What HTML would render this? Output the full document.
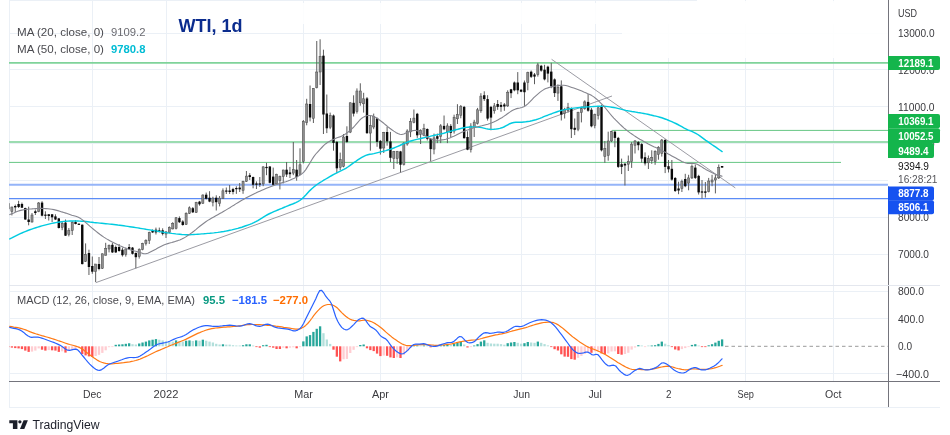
<!DOCTYPE html>
<html><head><meta charset="utf-8"><title>WTI, 1d</title>
<style>html,body{margin:0;padding:0;background:#fff}svg{display:block;will-change:transform;opacity:0.999}</style></head>
<body>
<svg width="950" height="435" viewBox="0 0 950 435" font-family="Liberation Sans, Arial, sans-serif">
<rect width="950" height="435" fill="#fff"/>
<g stroke="#ebf0f6" stroke-width="1" shape-rendering="crispEdges">
<line x1="92.3" y1="0" x2="92.3" y2="381"/>
<line x1="166.0" y1="0" x2="166.0" y2="381"/>
<line x1="303.6" y1="0" x2="303.6" y2="381"/>
<line x1="380.5" y1="0" x2="380.5" y2="381"/>
<line x1="521.6" y1="0" x2="521.6" y2="381"/>
<line x1="595.0" y1="0" x2="595.0" y2="381"/>
<line x1="668.8" y1="0" x2="668.8" y2="381"/>
<line x1="745.7" y1="0" x2="745.7" y2="381"/>
<line x1="833.2" y1="0" x2="833.2" y2="381"/>
<line x1="9" y1="33.0" x2="888" y2="33.0"/>
<line x1="9" y1="69.8" x2="888" y2="69.8"/>
<line x1="9" y1="106.7" x2="888" y2="106.7"/>
<line x1="9" y1="143.6" x2="888" y2="143.6"/>
<line x1="9" y1="180.4" x2="888" y2="180.4"/>
<line x1="9" y1="217.2" x2="888" y2="217.2"/>
<line x1="9" y1="254.1" x2="888" y2="254.1"/>
<line x1="9" y1="291.1" x2="888" y2="291.1"/>
<line x1="9" y1="318.7" x2="888" y2="318.7"/>
<line x1="9" y1="373.9" x2="888" y2="373.9"/>
<line x1="9.5" y1="0" x2="9.5" y2="408"/>
<line x1="9" y1="407.5" x2="940" y2="407.5"/>
</g>
<rect x="170" y="3" width="718" height="21" fill="#fff" opacity="0.85"/>
<rect x="622" y="1" width="266" height="57" fill="#fff" opacity="0.9"/>
<line x1="9" y1="0.5" x2="697" y2="0.5" stroke="#ebf0f6" shape-rendering="crispEdges"/>
<line x1="9" y1="62.9" x2="888" y2="62.9" stroke="#7fd39a" stroke-width="1.6"/>
<line x1="612" y1="130.4" x2="888" y2="130.4" stroke="#66c685" stroke-width="1"/>
<line x1="9" y1="141.9" x2="888" y2="141.9" stroke="#9bdcb0" stroke-width="2"/>
<line x1="9" y1="162.4" x2="841" y2="162.4" stroke="#66c685" stroke-width="1"/>
<line x1="9" y1="184.7" x2="888" y2="184.7" stroke="#95b4f8" stroke-width="2"/>
<line x1="9" y1="198.6" x2="888" y2="198.6" stroke="#5b8cf6" stroke-width="1.1"/>
<line x1="95.7" y1="282.7" x2="612" y2="96" stroke="#96969e" stroke-width="0.95"/>
<line x1="551.6" y1="59.3" x2="735.3" y2="187.9" stroke="#96969e" stroke-width="0.95"/>
<clipPath id="cp"><rect x="9.3" y="0" width="879" height="381"/></clipPath>
<g clip-path="url(#cp)">
<line x1="8.55" y1="201.0" x2="8.55" y2="211.0" stroke="#5c5c5c" stroke-width="1"/>
<rect x="7.50" y="203.5" width="2.1" height="5.5" fill="#8e8e8e" stroke="#484848" stroke-width="0.5"/>
<line x1="11.90" y1="206.7" x2="11.90" y2="215.4" stroke="#5c5c5c" stroke-width="1"/>
<rect x="10.85" y="207.0" width="2.1" height="4.5" fill="#8e8e8e" stroke="#484848" stroke-width="0.5"/>
<line x1="15.25" y1="204.6" x2="15.25" y2="212.0" stroke="#5c5c5c" stroke-width="1"/>
<rect x="14.05" y="206.0" width="2.4" height="1.4" fill="#0a0a0a"/>
<line x1="18.60" y1="200.8" x2="18.60" y2="208.0" stroke="#5c5c5c" stroke-width="1"/>
<rect x="17.40" y="204.0" width="2.4" height="3.0" fill="#0a0a0a"/>
<line x1="21.95" y1="202.6" x2="21.95" y2="208.0" stroke="#5c5c5c" stroke-width="1"/>
<rect x="20.75" y="204.0" width="2.4" height="3.7" fill="#0a0a0a"/>
<line x1="25.30" y1="207.7" x2="25.30" y2="219.8" stroke="#5c5c5c" stroke-width="1"/>
<rect x="24.10" y="208.0" width="2.4" height="11.5" fill="#0a0a0a"/>
<line x1="28.65" y1="206.7" x2="28.65" y2="225.3" stroke="#5c5c5c" stroke-width="1"/>
<rect x="27.45" y="219.5" width="2.4" height="2.5" fill="#0a0a0a"/>
<line x1="32.00" y1="213.0" x2="32.00" y2="222.6" stroke="#5c5c5c" stroke-width="1"/>
<rect x="30.95" y="215.0" width="2.1" height="7.0" fill="#8e8e8e" stroke="#484848" stroke-width="0.5"/>
<line x1="35.35" y1="209.5" x2="35.35" y2="215.0" stroke="#5c5c5c" stroke-width="1"/>
<rect x="34.15" y="211.3" width="2.4" height="1.7" fill="#0a0a0a"/>
<line x1="38.70" y1="202.0" x2="38.70" y2="212.2" stroke="#5c5c5c" stroke-width="1"/>
<rect x="37.65" y="203.0" width="2.1" height="8.3" fill="#8e8e8e" stroke="#484848" stroke-width="0.5"/>
<line x1="42.05" y1="201.2" x2="42.05" y2="216.4" stroke="#5c5c5c" stroke-width="1"/>
<rect x="40.85" y="202.6" width="2.4" height="13.1" fill="#0a0a0a"/>
<line x1="45.40" y1="211.3" x2="45.40" y2="219.0" stroke="#5c5c5c" stroke-width="1"/>
<rect x="44.20" y="214.6" width="2.4" height="1.2" fill="#0a0a0a"/>
<line x1="48.75" y1="214.0" x2="48.75" y2="220.5" stroke="#5c5c5c" stroke-width="1"/>
<rect x="47.55" y="214.3" width="2.4" height="1.7" fill="#0a0a0a"/>
<line x1="52.10" y1="214.0" x2="52.10" y2="222.0" stroke="#5c5c5c" stroke-width="1"/>
<rect x="50.90" y="214.3" width="2.4" height="3.0" fill="#0a0a0a"/>
<line x1="55.45" y1="214.3" x2="55.45" y2="220.0" stroke="#5c5c5c" stroke-width="1"/>
<rect x="54.25" y="216.4" width="2.4" height="3.1" fill="#0a0a0a"/>
<line x1="58.80" y1="218.0" x2="58.80" y2="228.5" stroke="#5c5c5c" stroke-width="1"/>
<rect x="57.60" y="218.4" width="2.4" height="9.6" fill="#0a0a0a"/>
<line x1="62.15" y1="221.2" x2="62.15" y2="230.2" stroke="#5c5c5c" stroke-width="1"/>
<rect x="61.10" y="223.3" width="2.1" height="4.1" fill="#8e8e8e" stroke="#484848" stroke-width="0.5"/>
<line x1="65.50" y1="219.5" x2="65.50" y2="236.0" stroke="#5c5c5c" stroke-width="1"/>
<rect x="64.30" y="222.6" width="2.4" height="13.1" fill="#0a0a0a"/>
<line x1="68.85" y1="228.0" x2="68.85" y2="236.4" stroke="#5c5c5c" stroke-width="1"/>
<rect x="67.80" y="230.2" width="2.1" height="4.1" fill="#8e8e8e" stroke="#484848" stroke-width="0.5"/>
<line x1="72.20" y1="221.0" x2="72.20" y2="235.0" stroke="#5c5c5c" stroke-width="1"/>
<rect x="71.15" y="222.6" width="2.1" height="8.0" fill="#8e8e8e" stroke="#484848" stroke-width="0.5"/>
<line x1="75.55" y1="220.2" x2="75.55" y2="224.4" stroke="#5c5c5c" stroke-width="1"/>
<rect x="74.35" y="222.0" width="2.4" height="2.0" fill="#0a0a0a"/>
<line x1="78.90" y1="223.5" x2="78.90" y2="225.0" stroke="#5c5c5c" stroke-width="1"/>
<rect x="77.70" y="223.7" width="2.4" height="1.2" fill="#0a0a0a"/>
<line x1="82.25" y1="224.5" x2="82.25" y2="264.4" stroke="#5c5c5c" stroke-width="1"/>
<rect x="81.05" y="224.7" width="2.4" height="39.4" fill="#0a0a0a"/>
<line x1="85.60" y1="243.4" x2="85.60" y2="262.0" stroke="#5c5c5c" stroke-width="1"/>
<rect x="84.55" y="254.5" width="2.1" height="6.9" fill="#8e8e8e" stroke="#484848" stroke-width="0.5"/>
<line x1="88.95" y1="249.7" x2="88.95" y2="275.0" stroke="#5c5c5c" stroke-width="1"/>
<rect x="87.75" y="253.0" width="2.4" height="14.0" fill="#0a0a0a"/>
<line x1="92.30" y1="256.5" x2="92.30" y2="273.8" stroke="#5c5c5c" stroke-width="1"/>
<rect x="91.10" y="266.0" width="2.4" height="5.7" fill="#0a0a0a"/>
<line x1="95.65" y1="264.0" x2="95.65" y2="282.0" stroke="#5c5c5c" stroke-width="1"/>
<rect x="94.60" y="264.0" width="2.1" height="7.7" fill="#8e8e8e" stroke="#484848" stroke-width="0.5"/>
<line x1="99.00" y1="257.0" x2="99.00" y2="270.3" stroke="#5c5c5c" stroke-width="1"/>
<rect x="97.80" y="264.0" width="2.4" height="5.0" fill="#0a0a0a"/>
<line x1="102.35" y1="253.5" x2="102.35" y2="269.0" stroke="#5c5c5c" stroke-width="1"/>
<rect x="101.30" y="253.8" width="2.1" height="14.5" fill="#8e8e8e" stroke="#484848" stroke-width="0.5"/>
<line x1="105.70" y1="242.8" x2="105.70" y2="255.6" stroke="#5c5c5c" stroke-width="1"/>
<rect x="104.65" y="248.3" width="2.1" height="6.9" fill="#8e8e8e" stroke="#484848" stroke-width="0.5"/>
<line x1="109.05" y1="244.5" x2="109.05" y2="252.4" stroke="#5c5c5c" stroke-width="1"/>
<rect x="108.00" y="245.5" width="2.1" height="3.5" fill="#8e8e8e" stroke="#484848" stroke-width="0.5"/>
<line x1="112.40" y1="242.8" x2="112.40" y2="253.0" stroke="#5c5c5c" stroke-width="1"/>
<rect x="111.20" y="244.8" width="2.4" height="7.6" fill="#0a0a0a"/>
<line x1="115.75" y1="245.5" x2="115.75" y2="253.0" stroke="#5c5c5c" stroke-width="1"/>
<rect x="114.55" y="247.0" width="2.4" height="5.4" fill="#0a0a0a"/>
<line x1="119.10" y1="244.0" x2="119.10" y2="251.7" stroke="#5c5c5c" stroke-width="1"/>
<rect x="117.90" y="247.0" width="2.4" height="4.0" fill="#0a0a0a"/>
<line x1="122.45" y1="247.6" x2="122.45" y2="256.6" stroke="#5c5c5c" stroke-width="1"/>
<rect x="121.25" y="249.7" width="2.4" height="5.5" fill="#0a0a0a"/>
<line x1="125.80" y1="248.3" x2="125.80" y2="256.6" stroke="#5c5c5c" stroke-width="1"/>
<rect x="124.75" y="249.0" width="2.1" height="5.5" fill="#8e8e8e" stroke="#484848" stroke-width="0.5"/>
<line x1="129.15" y1="244.0" x2="129.15" y2="249.7" stroke="#5c5c5c" stroke-width="1"/>
<rect x="127.95" y="247.0" width="2.4" height="2.0" fill="#0a0a0a"/>
<line x1="132.50" y1="247.0" x2="132.50" y2="254.5" stroke="#5c5c5c" stroke-width="1"/>
<rect x="131.30" y="247.6" width="2.4" height="6.2" fill="#0a0a0a"/>
<line x1="135.85" y1="252.4" x2="135.85" y2="268.3" stroke="#5c5c5c" stroke-width="1"/>
<rect x="134.65" y="253.0" width="2.4" height="4.2" fill="#0a0a0a"/>
<line x1="139.20" y1="248.3" x2="139.20" y2="258.6" stroke="#5c5c5c" stroke-width="1"/>
<rect x="138.15" y="249.7" width="2.1" height="6.8" fill="#8e8e8e" stroke="#484848" stroke-width="0.5"/>
<line x1="142.55" y1="242.8" x2="142.55" y2="250.3" stroke="#5c5c5c" stroke-width="1"/>
<rect x="141.50" y="243.4" width="2.1" height="6.3" fill="#8e8e8e" stroke="#484848" stroke-width="0.5"/>
<line x1="145.90" y1="239.3" x2="145.90" y2="245.5" stroke="#5c5c5c" stroke-width="1"/>
<rect x="144.85" y="240.4" width="2.1" height="3.3" fill="#8e8e8e" stroke="#484848" stroke-width="0.5"/>
<line x1="149.25" y1="231.7" x2="149.25" y2="244.0" stroke="#5c5c5c" stroke-width="1"/>
<rect x="148.20" y="232.7" width="2.1" height="8.0" fill="#8e8e8e" stroke="#484848" stroke-width="0.5"/>
<line x1="152.60" y1="229.4" x2="152.60" y2="233.0" stroke="#5c5c5c" stroke-width="1"/>
<rect x="151.40" y="230.3" width="2.4" height="2.1" fill="#0a0a0a"/>
<line x1="155.95" y1="227.6" x2="155.95" y2="234.5" stroke="#5c5c5c" stroke-width="1"/>
<rect x="154.75" y="229.7" width="2.4" height="2.7" fill="#0a0a0a"/>
<line x1="159.30" y1="227.6" x2="159.30" y2="232.4" stroke="#5c5c5c" stroke-width="1"/>
<rect x="158.10" y="230.3" width="2.4" height="1.4" fill="#0a0a0a"/>
<line x1="162.65" y1="228.3" x2="162.65" y2="235.4" stroke="#5c5c5c" stroke-width="1"/>
<rect x="161.45" y="230.3" width="2.4" height="3.5" fill="#0a0a0a"/>
<line x1="166.00" y1="231.2" x2="166.00" y2="238.0" stroke="#5c5c5c" stroke-width="1"/>
<rect x="164.95" y="231.9" width="2.1" height="2.1" fill="#8e8e8e" stroke="#484848" stroke-width="0.5"/>
<line x1="169.35" y1="226.4" x2="169.35" y2="233.3" stroke="#5c5c5c" stroke-width="1"/>
<rect x="168.30" y="227.5" width="2.1" height="5.1" fill="#8e8e8e" stroke="#484848" stroke-width="0.5"/>
<line x1="172.70" y1="222.2" x2="172.70" y2="229.4" stroke="#5c5c5c" stroke-width="1"/>
<rect x="171.65" y="223.3" width="2.1" height="5.6" fill="#8e8e8e" stroke="#484848" stroke-width="0.5"/>
<line x1="176.05" y1="217.0" x2="176.05" y2="229.4" stroke="#5c5c5c" stroke-width="1"/>
<rect x="175.00" y="217.8" width="2.1" height="10.6" fill="#8e8e8e" stroke="#484848" stroke-width="0.5"/>
<line x1="179.40" y1="216.4" x2="179.40" y2="223.0" stroke="#5c5c5c" stroke-width="1"/>
<rect x="178.20" y="218.1" width="2.4" height="4.1" fill="#0a0a0a"/>
<line x1="182.75" y1="220.2" x2="182.75" y2="225.7" stroke="#5c5c5c" stroke-width="1"/>
<rect x="181.55" y="221.5" width="2.4" height="3.5" fill="#0a0a0a"/>
<line x1="186.10" y1="212.3" x2="186.10" y2="225.0" stroke="#5c5c5c" stroke-width="1"/>
<rect x="185.05" y="213.3" width="2.1" height="11.0" fill="#8e8e8e" stroke="#484848" stroke-width="0.5"/>
<line x1="189.45" y1="206.4" x2="189.45" y2="214.0" stroke="#5c5c5c" stroke-width="1"/>
<rect x="188.40" y="207.8" width="2.1" height="5.5" fill="#8e8e8e" stroke="#484848" stroke-width="0.5"/>
<line x1="192.80" y1="207.0" x2="192.80" y2="213.0" stroke="#5c5c5c" stroke-width="1"/>
<rect x="191.60" y="208.2" width="2.4" height="4.1" fill="#0a0a0a"/>
<line x1="196.15" y1="201.8" x2="196.15" y2="213.0" stroke="#5c5c5c" stroke-width="1"/>
<rect x="195.10" y="202.7" width="2.1" height="9.6" fill="#8e8e8e" stroke="#484848" stroke-width="0.5"/>
<line x1="199.50" y1="200.9" x2="199.50" y2="205.7" stroke="#5c5c5c" stroke-width="1"/>
<rect x="198.30" y="201.6" width="2.4" height="2.7" fill="#0a0a0a"/>
<line x1="202.85" y1="194.4" x2="202.85" y2="204.0" stroke="#5c5c5c" stroke-width="1"/>
<rect x="201.80" y="195.0" width="2.1" height="8.2" fill="#8e8e8e" stroke="#484848" stroke-width="0.5"/>
<line x1="206.20" y1="192.6" x2="206.20" y2="199.5" stroke="#5c5c5c" stroke-width="1"/>
<rect x="205.00" y="194.7" width="2.4" height="4.1" fill="#0a0a0a"/>
<line x1="209.55" y1="191.2" x2="209.55" y2="202.2" stroke="#5c5c5c" stroke-width="1"/>
<rect x="208.35" y="197.7" width="2.4" height="3.9" fill="#0a0a0a"/>
<line x1="212.90" y1="196.7" x2="212.90" y2="206.4" stroke="#5c5c5c" stroke-width="1"/>
<rect x="211.85" y="198.1" width="2.1" height="4.1" fill="#8e8e8e" stroke="#484848" stroke-width="0.5"/>
<line x1="216.25" y1="195.3" x2="216.25" y2="210.5" stroke="#5c5c5c" stroke-width="1"/>
<rect x="215.05" y="197.7" width="2.4" height="4.5" fill="#0a0a0a"/>
<line x1="219.60" y1="196.0" x2="219.60" y2="206.4" stroke="#5c5c5c" stroke-width="1"/>
<rect x="218.55" y="198.1" width="2.1" height="5.5" fill="#8e8e8e" stroke="#484848" stroke-width="0.5"/>
<line x1="222.95" y1="188.4" x2="222.95" y2="198.8" stroke="#5c5c5c" stroke-width="1"/>
<rect x="221.90" y="190.8" width="2.1" height="7.7" fill="#8e8e8e" stroke="#484848" stroke-width="0.5"/>
<line x1="226.30" y1="187.5" x2="226.30" y2="194.0" stroke="#5c5c5c" stroke-width="1"/>
<rect x="225.10" y="190.5" width="2.4" height="1.2" fill="#0a0a0a"/>
<line x1="229.65" y1="185.0" x2="229.65" y2="194.0" stroke="#5c5c5c" stroke-width="1"/>
<rect x="228.45" y="190.5" width="2.4" height="1.5" fill="#0a0a0a"/>
<line x1="233.00" y1="187.8" x2="233.00" y2="194.4" stroke="#5c5c5c" stroke-width="1"/>
<rect x="231.80" y="189.1" width="2.4" height="2.8" fill="#0a0a0a"/>
<line x1="236.35" y1="186.3" x2="236.35" y2="193.9" stroke="#5c5c5c" stroke-width="1"/>
<rect x="235.15" y="188.0" width="2.4" height="1.2" fill="#0a0a0a"/>
<line x1="239.70" y1="183.0" x2="239.70" y2="192.0" stroke="#5c5c5c" stroke-width="1"/>
<rect x="238.50" y="187.6" width="2.4" height="1.7" fill="#0a0a0a"/>
<line x1="243.05" y1="180.7" x2="243.05" y2="193.8" stroke="#5c5c5c" stroke-width="1"/>
<rect x="242.00" y="181.4" width="2.1" height="8.9" fill="#8e8e8e" stroke="#484848" stroke-width="0.5"/>
<line x1="246.40" y1="171.0" x2="246.40" y2="182.0" stroke="#5c5c5c" stroke-width="1"/>
<rect x="245.35" y="176.1" width="2.1" height="5.3" fill="#8e8e8e" stroke="#484848" stroke-width="0.5"/>
<line x1="249.75" y1="173.1" x2="249.75" y2="180.0" stroke="#5c5c5c" stroke-width="1"/>
<rect x="248.55" y="175.2" width="2.4" height="1.8" fill="#0a0a0a"/>
<line x1="253.10" y1="176.6" x2="253.10" y2="188.3" stroke="#5c5c5c" stroke-width="1"/>
<rect x="251.90" y="177.0" width="2.4" height="7.8" fill="#0a0a0a"/>
<line x1="256.45" y1="181.4" x2="256.45" y2="189.0" stroke="#5c5c5c" stroke-width="1"/>
<rect x="255.25" y="183.4" width="2.4" height="1.4" fill="#0a0a0a"/>
<line x1="259.80" y1="177.0" x2="259.80" y2="186.9" stroke="#5c5c5c" stroke-width="1"/>
<rect x="258.60" y="183.4" width="2.4" height="1.2" fill="#0a0a0a"/>
<line x1="263.15" y1="166.2" x2="263.15" y2="186.2" stroke="#5c5c5c" stroke-width="1"/>
<rect x="262.10" y="166.9" width="2.1" height="17.0" fill="#8e8e8e" stroke="#484848" stroke-width="0.5"/>
<line x1="266.50" y1="162.8" x2="266.50" y2="175.2" stroke="#5c5c5c" stroke-width="1"/>
<rect x="265.30" y="166.9" width="2.4" height="1.2" fill="#0a0a0a"/>
<line x1="269.85" y1="166.2" x2="269.85" y2="183.4" stroke="#5c5c5c" stroke-width="1"/>
<rect x="268.65" y="166.5" width="2.4" height="16.3" fill="#0a0a0a"/>
<line x1="273.20" y1="167.6" x2="273.20" y2="185.5" stroke="#5c5c5c" stroke-width="1"/>
<rect x="272.00" y="176.6" width="2.4" height="8.2" fill="#0a0a0a"/>
<line x1="276.55" y1="173.8" x2="276.55" y2="184.4" stroke="#5c5c5c" stroke-width="1"/>
<rect x="275.50" y="174.2" width="2.1" height="9.7" fill="#8e8e8e" stroke="#484848" stroke-width="0.5"/>
<line x1="279.90" y1="175.6" x2="279.90" y2="189.4" stroke="#5c5c5c" stroke-width="1"/>
<rect x="278.85" y="176.6" width="2.1" height="4.1" fill="#8e8e8e" stroke="#484848" stroke-width="0.5"/>
<line x1="283.25" y1="169.7" x2="283.25" y2="183.4" stroke="#5c5c5c" stroke-width="1"/>
<rect x="282.20" y="170.0" width="2.1" height="6.6" fill="#8e8e8e" stroke="#484848" stroke-width="0.5"/>
<line x1="286.60" y1="162.0" x2="286.60" y2="177.0" stroke="#5c5c5c" stroke-width="1"/>
<rect x="285.40" y="169.7" width="2.4" height="4.8" fill="#0a0a0a"/>
<line x1="289.95" y1="166.9" x2="289.95" y2="178.0" stroke="#5c5c5c" stroke-width="1"/>
<rect x="288.75" y="172.4" width="2.4" height="1.8" fill="#0a0a0a"/>
<line x1="293.30" y1="142.0" x2="293.30" y2="175.2" stroke="#5c5c5c" stroke-width="1"/>
<rect x="292.25" y="169.7" width="2.1" height="3.4" fill="#8e8e8e" stroke="#484848" stroke-width="0.5"/>
<line x1="296.65" y1="160.0" x2="296.65" y2="180.7" stroke="#5c5c5c" stroke-width="1"/>
<rect x="295.45" y="169.7" width="2.4" height="7.3" fill="#0a0a0a"/>
<line x1="300.00" y1="148.3" x2="300.00" y2="175.2" stroke="#5c5c5c" stroke-width="1"/>
<rect x="298.95" y="164.8" width="2.1" height="9.7" fill="#8e8e8e" stroke="#484848" stroke-width="0.5"/>
<line x1="303.35" y1="120.0" x2="303.35" y2="163.4" stroke="#5c5c5c" stroke-width="1"/>
<rect x="302.30" y="121.4" width="2.1" height="40.0" fill="#8e8e8e" stroke="#484848" stroke-width="0.5"/>
<line x1="306.70" y1="98.8" x2="306.70" y2="125.3" stroke="#5c5c5c" stroke-width="1"/>
<rect x="305.65" y="104.0" width="2.1" height="18.4" fill="#8e8e8e" stroke="#484848" stroke-width="0.5"/>
<line x1="310.05" y1="85.5" x2="310.05" y2="121.4" stroke="#5c5c5c" stroke-width="1"/>
<rect x="308.85" y="104.0" width="2.4" height="13.5" fill="#0a0a0a"/>
<line x1="313.40" y1="88.0" x2="313.40" y2="123.0" stroke="#5c5c5c" stroke-width="1"/>
<rect x="312.35" y="88.4" width="2.1" height="30.0" fill="#8e8e8e" stroke="#484848" stroke-width="0.5"/>
<line x1="316.75" y1="41.0" x2="316.75" y2="88.4" stroke="#5c5c5c" stroke-width="1"/>
<rect x="315.70" y="72.0" width="2.1" height="15.6" fill="#8e8e8e" stroke="#484848" stroke-width="0.5"/>
<line x1="320.10" y1="39.3" x2="320.10" y2="85.0" stroke="#5c5c5c" stroke-width="1"/>
<rect x="319.05" y="56.5" width="2.1" height="15.5" fill="#8e8e8e" stroke="#484848" stroke-width="0.5"/>
<line x1="323.45" y1="49.7" x2="323.45" y2="134.0" stroke="#5c5c5c" stroke-width="1"/>
<rect x="322.25" y="55.7" width="2.4" height="58.8" fill="#0a0a0a"/>
<line x1="326.80" y1="94.5" x2="326.80" y2="133.1" stroke="#5c5c5c" stroke-width="1"/>
<rect x="325.60" y="113.5" width="2.4" height="14.8" fill="#0a0a0a"/>
<line x1="330.15" y1="112.6" x2="330.15" y2="129.2" stroke="#5c5c5c" stroke-width="1"/>
<rect x="329.10" y="115.5" width="2.1" height="11.7" fill="#8e8e8e" stroke="#484848" stroke-width="0.5"/>
<line x1="333.50" y1="114.5" x2="333.50" y2="150.7" stroke="#5c5c5c" stroke-width="1"/>
<rect x="332.30" y="115.5" width="2.4" height="27.4" fill="#0a0a0a"/>
<line x1="336.85" y1="140.9" x2="336.85" y2="173.2" stroke="#5c5c5c" stroke-width="1"/>
<rect x="335.65" y="141.9" width="2.4" height="26.4" fill="#0a0a0a"/>
<line x1="340.20" y1="152.6" x2="340.20" y2="170.2" stroke="#5c5c5c" stroke-width="1"/>
<rect x="339.15" y="159.5" width="2.1" height="7.8" fill="#8e8e8e" stroke="#484848" stroke-width="0.5"/>
<line x1="343.55" y1="134.0" x2="343.55" y2="167.3" stroke="#5c5c5c" stroke-width="1"/>
<rect x="342.50" y="137.0" width="2.1" height="29.3" fill="#8e8e8e" stroke="#484848" stroke-width="0.5"/>
<line x1="346.90" y1="126.3" x2="346.90" y2="142.9" stroke="#5c5c5c" stroke-width="1"/>
<rect x="345.70" y="136.0" width="2.4" height="5.9" fill="#0a0a0a"/>
<line x1="350.25" y1="102.4" x2="350.25" y2="133.1" stroke="#5c5c5c" stroke-width="1"/>
<rect x="349.20" y="102.8" width="2.1" height="29.3" fill="#8e8e8e" stroke="#484848" stroke-width="0.5"/>
<line x1="353.60" y1="95.3" x2="353.60" y2="116.5" stroke="#5c5c5c" stroke-width="1"/>
<rect x="352.40" y="102.8" width="2.4" height="10.8" fill="#0a0a0a"/>
<line x1="356.95" y1="88.4" x2="356.95" y2="113.6" stroke="#5c5c5c" stroke-width="1"/>
<rect x="355.90" y="91.0" width="2.1" height="20.6" fill="#8e8e8e" stroke="#484848" stroke-width="0.5"/>
<line x1="360.30" y1="83.3" x2="360.30" y2="105.7" stroke="#5c5c5c" stroke-width="1"/>
<rect x="359.25" y="91.0" width="2.1" height="11.8" fill="#8e8e8e" stroke="#484848" stroke-width="0.5"/>
<line x1="363.65" y1="92.8" x2="363.65" y2="112.6" stroke="#5c5c5c" stroke-width="1"/>
<rect x="362.60" y="98.8" width="2.1" height="5.0" fill="#8e8e8e" stroke="#484848" stroke-width="0.5"/>
<line x1="367.00" y1="97.0" x2="367.00" y2="134.0" stroke="#5c5c5c" stroke-width="1"/>
<rect x="365.80" y="98.4" width="2.4" height="34.7" fill="#0a0a0a"/>
<line x1="370.35" y1="115.5" x2="370.35" y2="150.7" stroke="#5c5c5c" stroke-width="1"/>
<rect x="369.30" y="125.3" width="2.1" height="7.8" fill="#8e8e8e" stroke="#484848" stroke-width="0.5"/>
<line x1="373.70" y1="113.6" x2="373.70" y2="129.2" stroke="#5c5c5c" stroke-width="1"/>
<rect x="372.65" y="116.5" width="2.1" height="10.5" fill="#8e8e8e" stroke="#484848" stroke-width="0.5"/>
<line x1="377.05" y1="117.5" x2="377.05" y2="146.8" stroke="#5c5c5c" stroke-width="1"/>
<rect x="375.85" y="118.4" width="2.4" height="23.5" fill="#0a0a0a"/>
<line x1="380.40" y1="140.0" x2="380.40" y2="154.6" stroke="#5c5c5c" stroke-width="1"/>
<rect x="379.20" y="140.9" width="2.4" height="7.8" fill="#0a0a0a"/>
<line x1="383.75" y1="131.9" x2="383.75" y2="153.0" stroke="#5c5c5c" stroke-width="1"/>
<rect x="382.70" y="132.4" width="2.1" height="15.6" fill="#8e8e8e" stroke="#484848" stroke-width="0.5"/>
<line x1="387.10" y1="126.7" x2="387.10" y2="145.7" stroke="#5c5c5c" stroke-width="1"/>
<rect x="385.90" y="132.0" width="2.4" height="9.4" fill="#0a0a0a"/>
<line x1="390.45" y1="131.9" x2="390.45" y2="162.0" stroke="#5c5c5c" stroke-width="1"/>
<rect x="389.25" y="141.4" width="2.4" height="16.4" fill="#0a0a0a"/>
<line x1="393.80" y1="150.9" x2="393.80" y2="169.0" stroke="#5c5c5c" stroke-width="1"/>
<rect x="392.75" y="151.4" width="2.1" height="7.2" fill="#8e8e8e" stroke="#484848" stroke-width="0.5"/>
<line x1="397.15" y1="150.9" x2="397.15" y2="163.8" stroke="#5c5c5c" stroke-width="1"/>
<rect x="396.10" y="151.7" width="2.1" height="6.9" fill="#8e8e8e" stroke="#484848" stroke-width="0.5"/>
<line x1="400.50" y1="150.9" x2="400.50" y2="172.4" stroke="#5c5c5c" stroke-width="1"/>
<rect x="399.30" y="151.4" width="2.4" height="13.3" fill="#0a0a0a"/>
<line x1="403.85" y1="142.2" x2="403.85" y2="165.5" stroke="#5c5c5c" stroke-width="1"/>
<rect x="402.80" y="143.1" width="2.1" height="21.6" fill="#8e8e8e" stroke="#484848" stroke-width="0.5"/>
<line x1="407.20" y1="129.3" x2="407.20" y2="145.7" stroke="#5c5c5c" stroke-width="1"/>
<rect x="406.15" y="131.0" width="2.1" height="13.0" fill="#8e8e8e" stroke="#484848" stroke-width="0.5"/>
<line x1="410.55" y1="118.1" x2="410.55" y2="137.1" stroke="#5c5c5c" stroke-width="1"/>
<rect x="409.50" y="121.6" width="2.1" height="10.3" fill="#8e8e8e" stroke="#484848" stroke-width="0.5"/>
<line x1="413.90" y1="109.5" x2="413.90" y2="123.3" stroke="#5c5c5c" stroke-width="1"/>
<rect x="412.85" y="118.1" width="2.1" height="4.3" fill="#8e8e8e" stroke="#484848" stroke-width="0.5"/>
<line x1="417.25" y1="112.9" x2="417.25" y2="137.9" stroke="#5c5c5c" stroke-width="1"/>
<rect x="416.05" y="113.8" width="2.4" height="21.5" fill="#0a0a0a"/>
<line x1="420.60" y1="129.3" x2="420.60" y2="144.0" stroke="#5c5c5c" stroke-width="1"/>
<rect x="419.55" y="130.2" width="2.1" height="4.3" fill="#8e8e8e" stroke="#484848" stroke-width="0.5"/>
<line x1="423.95" y1="123.8" x2="423.95" y2="136.2" stroke="#5c5c5c" stroke-width="1"/>
<rect x="422.90" y="128.4" width="2.1" height="6.9" fill="#8e8e8e" stroke="#484848" stroke-width="0.5"/>
<line x1="427.30" y1="128.4" x2="427.30" y2="140.5" stroke="#5c5c5c" stroke-width="1"/>
<rect x="426.10" y="129.0" width="2.4" height="9.8" fill="#0a0a0a"/>
<line x1="430.65" y1="137.9" x2="430.65" y2="161.2" stroke="#5c5c5c" stroke-width="1"/>
<rect x="429.45" y="138.8" width="2.4" height="10.3" fill="#0a0a0a"/>
<line x1="434.00" y1="133.6" x2="434.00" y2="154.3" stroke="#5c5c5c" stroke-width="1"/>
<rect x="432.95" y="137.9" width="2.1" height="11.2" fill="#8e8e8e" stroke="#484848" stroke-width="0.5"/>
<line x1="437.35" y1="133.6" x2="437.35" y2="143.1" stroke="#5c5c5c" stroke-width="1"/>
<rect x="436.15" y="136.2" width="2.4" height="2.6" fill="#0a0a0a"/>
<line x1="440.70" y1="124.1" x2="440.70" y2="143.1" stroke="#5c5c5c" stroke-width="1"/>
<rect x="439.65" y="125.9" width="2.1" height="10.3" fill="#8e8e8e" stroke="#484848" stroke-width="0.5"/>
<line x1="444.05" y1="115.5" x2="444.05" y2="130.2" stroke="#5c5c5c" stroke-width="1"/>
<rect x="442.85" y="125.9" width="2.4" height="3.4" fill="#0a0a0a"/>
<line x1="447.40" y1="123.3" x2="447.40" y2="143.1" stroke="#5c5c5c" stroke-width="1"/>
<rect x="446.35" y="125.9" width="2.1" height="6.0" fill="#8e8e8e" stroke="#484848" stroke-width="0.5"/>
<line x1="450.75" y1="124.1" x2="450.75" y2="137.1" stroke="#5c5c5c" stroke-width="1"/>
<rect x="449.55" y="125.9" width="2.4" height="6.9" fill="#0a0a0a"/>
<line x1="454.10" y1="114.7" x2="454.10" y2="133.6" stroke="#5c5c5c" stroke-width="1"/>
<rect x="453.05" y="117.2" width="2.1" height="13.8" fill="#8e8e8e" stroke="#484848" stroke-width="0.5"/>
<line x1="457.45" y1="104.2" x2="457.45" y2="124.0" stroke="#5c5c5c" stroke-width="1"/>
<rect x="456.40" y="114.5" width="2.1" height="4.3" fill="#8e8e8e" stroke="#484848" stroke-width="0.5"/>
<line x1="460.80" y1="105.0" x2="460.80" y2="118.3" stroke="#5c5c5c" stroke-width="1"/>
<rect x="459.75" y="106.5" width="2.1" height="8.7" fill="#8e8e8e" stroke="#484848" stroke-width="0.5"/>
<line x1="464.15" y1="105.9" x2="464.15" y2="138.5" stroke="#5c5c5c" stroke-width="1"/>
<rect x="462.95" y="106.9" width="2.4" height="31.3" fill="#0a0a0a"/>
<line x1="467.50" y1="131.3" x2="467.50" y2="150.2" stroke="#5c5c5c" stroke-width="1"/>
<rect x="466.30" y="137.0" width="2.4" height="12.7" fill="#0a0a0a"/>
<line x1="470.85" y1="123.2" x2="470.85" y2="152.5" stroke="#5c5c5c" stroke-width="1"/>
<rect x="469.80" y="126.1" width="2.1" height="23.6" fill="#8e8e8e" stroke="#484848" stroke-width="0.5"/>
<line x1="474.20" y1="119.8" x2="474.20" y2="137.0" stroke="#5c5c5c" stroke-width="1"/>
<rect x="473.15" y="122.1" width="2.1" height="5.1" fill="#8e8e8e" stroke="#484848" stroke-width="0.5"/>
<line x1="477.55" y1="107.9" x2="477.55" y2="124.5" stroke="#5c5c5c" stroke-width="1"/>
<rect x="476.50" y="109.8" width="2.1" height="13.7" fill="#8e8e8e" stroke="#484848" stroke-width="0.5"/>
<line x1="480.90" y1="93.2" x2="480.90" y2="112.8" stroke="#5c5c5c" stroke-width="1"/>
<rect x="479.85" y="96.1" width="2.1" height="14.7" fill="#8e8e8e" stroke="#484848" stroke-width="0.5"/>
<line x1="484.25" y1="91.3" x2="484.25" y2="101.0" stroke="#5c5c5c" stroke-width="1"/>
<rect x="483.05" y="95.2" width="2.4" height="3.9" fill="#0a0a0a"/>
<line x1="487.60" y1="95.2" x2="487.60" y2="120.6" stroke="#5c5c5c" stroke-width="1"/>
<rect x="486.40" y="99.1" width="2.4" height="19.5" fill="#0a0a0a"/>
<line x1="490.95" y1="105.9" x2="490.95" y2="130.3" stroke="#5c5c5c" stroke-width="1"/>
<rect x="489.75" y="106.9" width="2.4" height="10.7" fill="#0a0a0a"/>
<line x1="494.30" y1="103.0" x2="494.30" y2="113.7" stroke="#5c5c5c" stroke-width="1"/>
<rect x="493.25" y="105.9" width="2.1" height="4.9" fill="#8e8e8e" stroke="#484848" stroke-width="0.5"/>
<line x1="497.65" y1="100.0" x2="497.65" y2="109.8" stroke="#5c5c5c" stroke-width="1"/>
<rect x="496.45" y="104.0" width="2.4" height="2.9" fill="#0a0a0a"/>
<line x1="501.00" y1="102.0" x2="501.00" y2="111.8" stroke="#5c5c5c" stroke-width="1"/>
<rect x="499.80" y="104.9" width="2.4" height="2.0" fill="#0a0a0a"/>
<line x1="504.35" y1="103.0" x2="504.35" y2="110.8" stroke="#5c5c5c" stroke-width="1"/>
<rect x="503.15" y="104.5" width="2.4" height="2.0" fill="#0a0a0a"/>
<line x1="507.70" y1="90.3" x2="507.70" y2="106.9" stroke="#5c5c5c" stroke-width="1"/>
<rect x="506.65" y="92.2" width="2.1" height="13.7" fill="#8e8e8e" stroke="#484848" stroke-width="0.5"/>
<line x1="511.05" y1="88.9" x2="511.05" y2="98.1" stroke="#5c5c5c" stroke-width="1"/>
<rect x="509.85" y="89.3" width="2.4" height="3.9" fill="#0a0a0a"/>
<line x1="514.40" y1="81.5" x2="514.40" y2="91.3" stroke="#5c5c5c" stroke-width="1"/>
<rect x="513.20" y="82.5" width="2.4" height="7.8" fill="#0a0a0a"/>
<line x1="517.75" y1="72.1" x2="517.75" y2="94.2" stroke="#5c5c5c" stroke-width="1"/>
<rect x="516.55" y="82.5" width="2.4" height="7.8" fill="#0a0a0a"/>
<line x1="521.10" y1="89.3" x2="521.10" y2="92.2" stroke="#5c5c5c" stroke-width="1"/>
<rect x="519.90" y="89.7" width="2.4" height="2.0" fill="#0a0a0a"/>
<line x1="524.45" y1="80.5" x2="524.45" y2="105.9" stroke="#5c5c5c" stroke-width="1"/>
<rect x="523.25" y="82.5" width="2.4" height="9.7" fill="#0a0a0a"/>
<line x1="527.80" y1="71.7" x2="527.80" y2="90.3" stroke="#5c5c5c" stroke-width="1"/>
<rect x="526.75" y="72.7" width="2.1" height="9.8" fill="#8e8e8e" stroke="#484848" stroke-width="0.5"/>
<line x1="531.15" y1="70.5" x2="531.15" y2="78.0" stroke="#5c5c5c" stroke-width="1"/>
<rect x="529.95" y="71.7" width="2.4" height="5.1" fill="#0a0a0a"/>
<line x1="534.50" y1="73.0" x2="534.50" y2="84.2" stroke="#5c5c5c" stroke-width="1"/>
<rect x="533.30" y="74.5" width="2.4" height="2.1" fill="#0a0a0a"/>
<line x1="537.85" y1="62.9" x2="537.85" y2="76.6" stroke="#5c5c5c" stroke-width="1"/>
<rect x="536.80" y="64.9" width="2.1" height="9.8" fill="#8e8e8e" stroke="#484848" stroke-width="0.5"/>
<line x1="541.20" y1="64.9" x2="541.20" y2="71.7" stroke="#5c5c5c" stroke-width="1"/>
<rect x="540.00" y="65.8" width="2.4" height="4.8" fill="#0a0a0a"/>
<line x1="544.55" y1="64.8" x2="544.55" y2="80.4" stroke="#5c5c5c" stroke-width="1"/>
<rect x="543.35" y="69.7" width="2.4" height="9.7" fill="#0a0a0a"/>
<line x1="547.90" y1="65.7" x2="547.90" y2="82.4" stroke="#5c5c5c" stroke-width="1"/>
<rect x="546.70" y="66.7" width="2.4" height="6.9" fill="#0a0a0a"/>
<line x1="551.25" y1="62.8" x2="551.25" y2="88.2" stroke="#5c5c5c" stroke-width="1"/>
<rect x="550.05" y="71.6" width="2.4" height="14.7" fill="#0a0a0a"/>
<line x1="554.60" y1="78.4" x2="554.60" y2="97.0" stroke="#5c5c5c" stroke-width="1"/>
<rect x="553.40" y="79.4" width="2.4" height="13.7" fill="#0a0a0a"/>
<line x1="557.95" y1="84.3" x2="557.95" y2="100.9" stroke="#5c5c5c" stroke-width="1"/>
<rect x="556.90" y="87.2" width="2.1" height="5.9" fill="#8e8e8e" stroke="#484848" stroke-width="0.5"/>
<line x1="561.30" y1="80.4" x2="561.30" y2="120.5" stroke="#5c5c5c" stroke-width="1"/>
<rect x="560.10" y="86.3" width="2.4" height="28.3" fill="#0a0a0a"/>
<line x1="564.65" y1="107.8" x2="564.65" y2="118.5" stroke="#5c5c5c" stroke-width="1"/>
<rect x="563.60" y="109.7" width="2.1" height="3.9" fill="#8e8e8e" stroke="#484848" stroke-width="0.5"/>
<line x1="568.00" y1="102.9" x2="568.00" y2="112.6" stroke="#5c5c5c" stroke-width="1"/>
<rect x="566.95" y="107.4" width="2.1" height="3.3" fill="#8e8e8e" stroke="#484848" stroke-width="0.5"/>
<line x1="571.35" y1="107.4" x2="571.35" y2="138.0" stroke="#5c5c5c" stroke-width="1"/>
<rect x="570.15" y="108.1" width="2.4" height="21.1" fill="#0a0a0a"/>
<line x1="574.70" y1="118.5" x2="574.70" y2="135.1" stroke="#5c5c5c" stroke-width="1"/>
<rect x="573.50" y="127.8" width="2.4" height="2.0" fill="#0a0a0a"/>
<line x1="578.05" y1="111.7" x2="578.05" y2="131.2" stroke="#5c5c5c" stroke-width="1"/>
<rect x="577.00" y="112.6" width="2.1" height="16.6" fill="#8e8e8e" stroke="#484848" stroke-width="0.5"/>
<line x1="581.40" y1="106.8" x2="581.40" y2="122.4" stroke="#5c5c5c" stroke-width="1"/>
<rect x="580.35" y="108.7" width="2.1" height="3.9" fill="#8e8e8e" stroke="#484848" stroke-width="0.5"/>
<line x1="584.75" y1="100.3" x2="584.75" y2="109.7" stroke="#5c5c5c" stroke-width="1"/>
<rect x="583.70" y="101.9" width="2.1" height="6.8" fill="#8e8e8e" stroke="#484848" stroke-width="0.5"/>
<line x1="588.10" y1="94.1" x2="588.10" y2="111.7" stroke="#5c5c5c" stroke-width="1"/>
<rect x="586.90" y="101.9" width="2.4" height="8.8" fill="#0a0a0a"/>
<line x1="591.45" y1="107.8" x2="591.45" y2="127.3" stroke="#5c5c5c" stroke-width="1"/>
<rect x="590.25" y="109.7" width="2.4" height="16.6" fill="#0a0a0a"/>
<line x1="594.80" y1="113.6" x2="594.80" y2="128.3" stroke="#5c5c5c" stroke-width="1"/>
<rect x="593.75" y="114.6" width="2.1" height="10.7" fill="#8e8e8e" stroke="#484848" stroke-width="0.5"/>
<line x1="598.15" y1="106.8" x2="598.15" y2="119.5" stroke="#5c5c5c" stroke-width="1"/>
<rect x="597.10" y="107.8" width="2.1" height="7.8" fill="#8e8e8e" stroke="#484848" stroke-width="0.5"/>
<line x1="601.50" y1="104.8" x2="601.50" y2="151.4" stroke="#5c5c5c" stroke-width="1"/>
<rect x="600.30" y="106.8" width="2.4" height="43.5" fill="#0a0a0a"/>
<line x1="604.85" y1="141.0" x2="604.85" y2="162.8" stroke="#5c5c5c" stroke-width="1"/>
<rect x="603.80" y="148.3" width="2.1" height="8.3" fill="#8e8e8e" stroke="#484848" stroke-width="0.5"/>
<line x1="608.20" y1="131.7" x2="608.20" y2="160.7" stroke="#5c5c5c" stroke-width="1"/>
<rect x="607.15" y="141.0" width="2.1" height="14.5" fill="#8e8e8e" stroke="#484848" stroke-width="0.5"/>
<line x1="611.55" y1="130.7" x2="611.55" y2="142.1" stroke="#5c5c5c" stroke-width="1"/>
<rect x="610.50" y="131.7" width="2.1" height="9.3" fill="#8e8e8e" stroke="#484848" stroke-width="0.5"/>
<line x1="614.90" y1="130.7" x2="614.90" y2="147.2" stroke="#5c5c5c" stroke-width="1"/>
<rect x="613.70" y="131.7" width="2.4" height="6.2" fill="#0a0a0a"/>
<line x1="618.25" y1="136.9" x2="618.25" y2="167.9" stroke="#5c5c5c" stroke-width="1"/>
<rect x="617.05" y="137.9" width="2.4" height="29.0" fill="#0a0a0a"/>
<line x1="621.60" y1="158.6" x2="621.60" y2="174.1" stroke="#5c5c5c" stroke-width="1"/>
<rect x="620.40" y="164.2" width="2.4" height="2.7" fill="#0a0a0a"/>
<line x1="624.95" y1="162.8" x2="624.95" y2="185.5" stroke="#5c5c5c" stroke-width="1"/>
<rect x="623.75" y="163.8" width="2.4" height="1.7" fill="#0a0a0a"/>
<line x1="628.30" y1="155.5" x2="628.30" y2="171.0" stroke="#5c5c5c" stroke-width="1"/>
<rect x="627.25" y="161.3" width="2.1" height="2.9" fill="#8e8e8e" stroke="#484848" stroke-width="0.5"/>
<line x1="631.65" y1="142.1" x2="631.65" y2="167.9" stroke="#5c5c5c" stroke-width="1"/>
<rect x="630.60" y="144.1" width="2.1" height="17.6" fill="#8e8e8e" stroke="#484848" stroke-width="0.5"/>
<line x1="635.00" y1="140.0" x2="635.00" y2="153.5" stroke="#5c5c5c" stroke-width="1"/>
<rect x="633.95" y="141.0" width="2.1" height="4.2" fill="#8e8e8e" stroke="#484848" stroke-width="0.5"/>
<line x1="638.35" y1="141.0" x2="638.35" y2="150.3" stroke="#5c5c5c" stroke-width="1"/>
<rect x="637.15" y="142.1" width="2.4" height="3.1" fill="#0a0a0a"/>
<line x1="641.70" y1="143.1" x2="641.70" y2="162.8" stroke="#5c5c5c" stroke-width="1"/>
<rect x="640.50" y="144.1" width="2.4" height="14.5" fill="#0a0a0a"/>
<line x1="645.05" y1="152.4" x2="645.05" y2="165.5" stroke="#5c5c5c" stroke-width="1"/>
<rect x="643.85" y="157.2" width="2.4" height="6.2" fill="#0a0a0a"/>
<line x1="648.40" y1="155.5" x2="648.40" y2="169.0" stroke="#5c5c5c" stroke-width="1"/>
<rect x="647.35" y="158.6" width="2.1" height="4.2" fill="#8e8e8e" stroke="#484848" stroke-width="0.5"/>
<line x1="651.75" y1="150.3" x2="651.75" y2="163.8" stroke="#5c5c5c" stroke-width="1"/>
<rect x="650.70" y="157.6" width="2.1" height="3.1" fill="#8e8e8e" stroke="#484848" stroke-width="0.5"/>
<line x1="655.10" y1="150.3" x2="655.10" y2="164.8" stroke="#5c5c5c" stroke-width="1"/>
<rect x="654.05" y="151.4" width="2.1" height="10.3" fill="#8e8e8e" stroke="#484848" stroke-width="0.5"/>
<line x1="658.45" y1="146.2" x2="658.45" y2="159.7" stroke="#5c5c5c" stroke-width="1"/>
<rect x="657.40" y="147.2" width="2.1" height="7.3" fill="#8e8e8e" stroke="#484848" stroke-width="0.5"/>
<line x1="661.80" y1="139.0" x2="661.80" y2="156.6" stroke="#5c5c5c" stroke-width="1"/>
<rect x="660.75" y="140.0" width="2.1" height="13.5" fill="#8e8e8e" stroke="#484848" stroke-width="0.5"/>
<line x1="665.15" y1="139.0" x2="665.15" y2="173.1" stroke="#5c5c5c" stroke-width="1"/>
<rect x="663.95" y="140.0" width="2.4" height="26.9" fill="#0a0a0a"/>
<line x1="668.50" y1="160.0" x2="668.50" y2="172.5" stroke="#5c5c5c" stroke-width="1"/>
<rect x="667.30" y="166.2" width="2.4" height="3.1" fill="#0a0a0a"/>
<line x1="671.85" y1="160.0" x2="671.85" y2="180.6" stroke="#5c5c5c" stroke-width="1"/>
<rect x="670.65" y="168.8" width="2.4" height="10.8" fill="#0a0a0a"/>
<line x1="675.20" y1="177.0" x2="675.20" y2="192.0" stroke="#5c5c5c" stroke-width="1"/>
<rect x="674.00" y="178.0" width="2.4" height="13.0" fill="#0a0a0a"/>
<line x1="678.55" y1="181.7" x2="678.55" y2="194.2" stroke="#5c5c5c" stroke-width="1"/>
<rect x="677.35" y="188.5" width="2.4" height="2.0" fill="#0a0a0a"/>
<line x1="681.90" y1="179.6" x2="681.90" y2="192.0" stroke="#5c5c5c" stroke-width="1"/>
<rect x="680.85" y="181.5" width="2.1" height="7.0" fill="#8e8e8e" stroke="#484848" stroke-width="0.5"/>
<line x1="685.25" y1="173.8" x2="685.25" y2="187.2" stroke="#5c5c5c" stroke-width="1"/>
<rect x="684.05" y="179.0" width="2.4" height="7.2" fill="#0a0a0a"/>
<line x1="688.60" y1="174.8" x2="688.60" y2="190.3" stroke="#5c5c5c" stroke-width="1"/>
<rect x="687.55" y="177.9" width="2.1" height="5.2" fill="#8e8e8e" stroke="#484848" stroke-width="0.5"/>
<line x1="691.95" y1="164.5" x2="691.95" y2="179.0" stroke="#5c5c5c" stroke-width="1"/>
<rect x="690.90" y="166.6" width="2.1" height="11.3" fill="#8e8e8e" stroke="#484848" stroke-width="0.5"/>
<line x1="695.30" y1="164.5" x2="695.30" y2="179.0" stroke="#5c5c5c" stroke-width="1"/>
<rect x="694.10" y="167.6" width="2.4" height="10.3" fill="#0a0a0a"/>
<line x1="698.65" y1="174.8" x2="698.65" y2="194.5" stroke="#5c5c5c" stroke-width="1"/>
<rect x="697.45" y="175.9" width="2.4" height="16.5" fill="#0a0a0a"/>
<line x1="702.00" y1="180.0" x2="702.00" y2="198.6" stroke="#5c5c5c" stroke-width="1"/>
<rect x="700.80" y="191.4" width="2.4" height="1.2" fill="#0a0a0a"/>
<line x1="705.35" y1="182.0" x2="705.35" y2="197.6" stroke="#5c5c5c" stroke-width="1"/>
<rect x="704.15" y="191.4" width="2.4" height="1.4" fill="#0a0a0a"/>
<line x1="708.70" y1="177.9" x2="708.70" y2="192.4" stroke="#5c5c5c" stroke-width="1"/>
<rect x="707.65" y="181.0" width="2.1" height="10.4" fill="#8e8e8e" stroke="#484848" stroke-width="0.5"/>
<line x1="712.05" y1="174.8" x2="712.05" y2="186.2" stroke="#5c5c5c" stroke-width="1"/>
<rect x="711.00" y="180.0" width="2.1" height="2.0" fill="#8e8e8e" stroke="#484848" stroke-width="0.5"/>
<line x1="715.40" y1="174.8" x2="715.40" y2="193.4" stroke="#5c5c5c" stroke-width="1"/>
<rect x="714.35" y="177.9" width="2.1" height="2.1" fill="#8e8e8e" stroke="#484848" stroke-width="0.5"/>
<line x1="718.75" y1="164.5" x2="718.75" y2="179.0" stroke="#5c5c5c" stroke-width="1"/>
<rect x="717.70" y="167.6" width="2.1" height="10.3" fill="#8e8e8e" stroke="#484848" stroke-width="0.5"/>
<line x1="722.10" y1="166.0" x2="722.10" y2="167.6" stroke="#5c5c5c" stroke-width="1"/>
<rect x="720.90" y="166.0" width="2.4" height="1.6" fill="#0a0a0a"/>
</g>
<polyline points="9.8,238.9 11.8,237.9 13.8,236.8 15.8,235.8 17.8,234.8 19.8,233.8 21.8,233.0 23.8,232.1 25.8,231.3 27.8,230.5 29.8,229.8 31.8,229.1 33.8,228.4 35.8,227.7 37.8,227.1 39.8,226.5 41.8,225.9 43.8,225.4 45.8,224.9 47.8,224.4 49.8,223.9 51.8,223.4 53.8,223.0 55.8,222.6 57.8,222.3 59.8,222.0 61.8,221.7 63.8,221.4 65.8,221.2 67.8,221.1 69.8,221.0 71.8,220.9 73.8,220.9 75.8,220.9 77.8,221.0 79.8,221.1 81.8,221.2 83.8,221.3 85.8,221.5 87.8,221.7 89.8,222.0 91.8,222.2 93.8,222.5 95.8,222.7 97.8,222.9 99.8,223.1 101.8,223.3 103.8,223.5 105.8,223.7 107.8,223.9 109.8,224.1 111.8,224.3 113.8,224.5 115.8,224.7 117.8,225.0 119.8,225.2 121.8,225.5 123.8,225.8 125.8,226.1 127.8,226.4 129.8,226.7 131.8,227.0 133.8,227.3 135.8,227.6 137.8,227.9 139.8,228.3 141.8,228.6 143.8,228.9 145.8,229.3 147.8,229.6 149.8,229.9 151.8,230.2 153.8,230.6 155.8,230.9 157.8,231.2 159.8,231.6 161.8,231.9 163.8,232.3 165.8,232.6 167.8,232.9 169.8,233.1 171.8,233.4 173.8,233.6 175.8,233.9 177.8,234.1 179.8,234.3 181.8,234.5 183.8,234.6 185.8,234.7 187.8,234.7 189.8,234.7 191.8,234.6 193.8,234.5 195.8,234.4 197.8,234.2 199.8,234.1 201.8,233.9 203.8,233.8 205.8,233.6 207.8,233.4 209.8,233.3 211.8,233.1 213.8,232.9 215.8,232.6 217.8,232.4 219.8,232.1 221.8,231.8 223.8,231.5 225.8,231.1 227.8,230.7 229.8,230.3 231.8,229.9 233.8,229.4 235.8,228.9 237.8,228.4 239.8,227.8 241.8,227.2 243.8,226.5 245.8,225.8 247.8,225.1 249.8,224.4 251.8,223.6 253.8,222.7 255.8,221.7 257.8,220.6 259.8,219.3 261.8,218.1 263.8,216.8 265.8,215.6 267.8,214.5 269.8,213.5 271.8,212.6 273.8,211.7 275.8,210.8 277.8,210.0 279.8,209.2 281.8,208.4 283.8,207.5 285.8,206.7 287.8,205.8 289.8,205.0 291.8,204.3 293.8,203.5 295.8,202.7 297.8,201.7 299.8,200.5 301.8,199.0 303.8,197.1 305.8,195.0 307.8,192.8 309.8,190.6 311.8,188.7 313.8,187.0 315.8,185.4 317.8,184.0 319.8,182.7 321.8,181.5 323.8,180.2 325.8,179.0 327.8,177.8 329.8,176.6 331.8,175.5 333.8,174.4 335.8,173.3 337.8,172.3 339.8,171.3 341.8,170.4 343.8,169.4 345.8,168.3 347.8,167.0 349.8,165.6 351.8,164.1 353.8,162.6 355.8,161.3 357.8,159.9 359.8,158.6 361.8,157.4 363.8,156.3 365.8,155.4 367.8,154.8 369.8,154.3 371.8,154.0 373.8,153.6 375.8,153.1 377.8,152.6 379.8,152.1 381.8,151.6 383.8,151.1 385.8,150.6 387.8,150.0 389.8,149.4 391.8,148.7 393.8,148.0 395.8,147.2 397.8,146.3 399.8,145.5 401.8,144.5 403.8,143.6 405.8,142.8 407.8,142.0 409.8,141.3 411.8,140.7 413.8,140.1 415.8,139.6 417.8,139.1 419.8,138.7 421.8,138.2 423.8,137.8 425.8,137.3 427.8,136.8 429.8,136.4 431.8,135.9 433.8,135.5 435.8,135.0 437.8,134.6 439.8,134.1 441.8,133.7 443.8,133.2 445.8,132.6 447.8,132.0 449.8,131.5 451.8,130.9 453.8,130.3 455.8,129.8 457.8,129.3 459.8,128.7 461.8,128.2 463.8,127.8 465.8,127.4 467.8,127.2 469.8,127.0 471.8,126.9 473.8,126.9 475.8,127.0 477.8,127.1 479.8,127.3 481.8,127.6 483.8,128.1 485.8,128.6 487.8,129.0 489.8,129.3 491.8,129.4 493.8,129.3 495.8,129.1 497.8,128.8 499.8,128.4 501.8,127.8 503.8,127.0 505.8,125.9 507.8,124.8 509.8,123.7 511.8,123.0 513.8,122.5 515.8,122.3 517.8,122.3 519.8,122.3 521.8,122.2 523.8,122.0 525.8,121.8 527.8,121.5 529.8,121.2 531.8,120.8 533.8,120.3 535.8,119.8 537.8,119.1 539.8,118.4 541.8,117.6 543.8,116.7 545.8,115.9 547.8,115.2 549.8,114.4 551.8,113.7 553.8,112.9 555.8,112.2 557.8,111.5 559.8,110.9 561.8,110.3 563.8,109.9 565.8,109.4 567.8,109.1 569.8,108.7 571.8,108.4 573.8,108.1 575.8,107.9 577.8,107.7 579.8,107.5 581.8,107.3 583.8,107.2 585.8,107.0 587.8,106.9 589.8,106.8 591.8,106.6 593.8,106.5 595.8,106.4 597.8,106.2 599.8,106.2 601.8,106.2 603.8,106.3 605.8,106.4 607.8,106.6 609.8,106.9 611.8,107.2 613.8,107.5 615.8,107.9 617.8,108.4 619.8,108.9 621.8,109.4 623.8,109.9 625.8,110.4 627.8,110.8 629.8,111.1 631.8,111.5 633.8,111.8 635.8,112.1 637.8,112.5 639.8,112.8 641.8,113.1 643.8,113.5 645.8,113.9 647.8,114.3 649.8,114.8 651.8,115.2 653.8,115.7 655.8,116.1 657.8,116.6 659.8,117.2 661.8,117.8 663.8,118.5 665.8,119.2 667.8,120.0 669.8,120.8 671.8,121.7 673.8,122.6 675.8,123.5 677.8,124.5 679.8,125.6 681.8,126.7 683.8,127.8 685.8,128.8 687.8,129.8 689.8,130.6 691.8,131.4 693.8,132.3 695.8,133.3 697.8,134.5 699.8,135.9 701.8,137.3 703.8,138.8 705.8,140.3 707.8,141.7 709.8,143.1 711.8,144.5 713.8,145.8 715.8,147.2 717.8,148.6 719.8,150.0 721.8,151.4 722.1,151.6" fill="none" stroke="#00cbe0" stroke-width="1.45" stroke-linejoin="round" stroke-linecap="round"/>
<polyline points="9.8,214.6 11.8,213.7 13.8,212.9 15.8,212.0 17.8,211.2 19.8,210.6 21.8,210.1 23.8,209.7 25.8,209.4 27.8,209.2 29.8,209.0 31.8,208.9 33.8,208.7 35.8,208.6 37.8,208.5 39.8,208.4 41.8,208.4 43.8,208.5 45.8,208.6 47.8,208.8 49.8,209.0 51.8,209.2 53.8,209.6 55.8,210.1 57.8,210.6 59.8,211.2 61.8,211.9 63.8,212.5 65.8,213.1 67.8,213.8 69.8,214.5 71.8,215.2 73.8,215.7 75.8,216.3 77.8,217.0 79.8,218.0 81.8,219.4 83.8,220.9 85.8,222.6 87.8,224.3 89.8,226.1 91.8,227.8 93.8,229.5 95.8,231.1 97.8,232.7 99.8,234.3 101.8,235.7 103.8,237.1 105.8,238.4 107.8,239.6 109.8,240.7 111.8,241.8 113.8,242.8 115.8,243.8 117.8,244.8 119.8,245.7 121.8,246.5 123.8,247.4 125.8,248.1 127.8,248.9 129.8,249.6 131.8,250.2 133.8,250.8 135.8,251.3 137.8,251.9 139.8,252.4 141.8,253.1 143.8,253.7 145.8,253.8 147.8,253.2 149.8,252.2 151.8,251.2 153.8,250.2 155.8,249.2 157.8,248.1 159.8,247.0 161.8,246.0 163.8,245.0 165.8,244.2 167.8,243.6 169.8,243.0 171.8,242.5 173.8,241.9 175.8,241.2 177.8,240.6 179.8,239.9 181.8,239.1 183.8,238.1 185.8,236.9 187.8,235.5 189.8,234.1 191.8,232.7 193.8,231.2 195.8,229.6 197.8,227.9 199.8,226.3 201.8,224.7 203.8,223.2 205.8,221.7 207.8,220.4 209.8,219.2 211.8,218.0 213.8,216.9 215.8,215.8 217.8,214.7 219.8,213.6 221.8,212.5 223.8,211.3 225.8,210.1 227.8,208.9 229.8,207.7 231.8,206.4 233.8,205.2 235.8,203.9 237.8,202.7 239.8,201.5 241.8,200.3 243.8,199.2 245.8,198.1 247.8,197.0 249.8,196.0 251.8,195.0 253.8,194.0 255.8,193.1 257.8,192.1 259.8,191.2 261.8,190.3 263.8,189.4 265.8,188.6 267.8,187.8 269.8,187.0 271.8,186.2 273.8,185.4 275.8,184.7 277.8,184.1 279.8,183.5 281.8,182.9 283.8,182.3 285.8,181.7 287.8,181.0 289.8,180.2 291.8,179.3 293.8,178.4 295.8,177.5 297.8,176.4 299.8,175.2 301.8,173.9 303.8,172.2 305.8,169.6 307.8,166.4 309.8,163.2 311.8,159.8 313.8,156.6 315.8,154.0 317.8,151.8 319.8,149.6 321.8,147.5 323.8,145.4 325.8,143.7 327.8,142.3 329.8,141.2 331.8,140.1 333.8,139.2 335.8,138.2 337.8,137.5 339.8,136.9 341.8,136.1 343.8,135.1 345.8,133.8 347.8,132.3 349.8,130.7 351.8,128.9 353.8,127.0 355.8,124.7 357.8,122.3 359.8,120.0 361.8,118.2 363.8,116.9 365.8,116.0 367.8,115.5 369.8,115.5 371.8,115.8 373.8,116.4 375.8,117.4 377.8,118.7 379.8,120.2 381.8,121.7 383.8,123.3 385.8,125.0 387.8,126.7 389.8,128.3 391.8,129.7 393.8,131.1 395.8,132.4 397.8,133.5 399.8,134.3 401.8,134.5 403.8,134.0 405.8,133.0 407.8,132.1 409.8,131.4 411.8,130.9 413.8,130.5 415.8,130.4 417.8,131.0 419.8,132.2 421.8,133.5 423.8,134.8 425.8,136.0 427.8,137.3 429.8,138.4 431.8,139.3 433.8,139.8 435.8,140.1 437.8,140.2 439.8,140.2 441.8,139.9 443.8,139.6 445.8,139.2 447.8,138.6 449.8,137.9 451.8,137.1 453.8,136.3 455.8,135.3 457.8,134.2 459.8,133.2 461.8,132.3 463.8,131.4 465.8,130.6 467.8,129.9 469.8,129.2 471.8,128.5 473.8,127.8 475.8,127.2 477.8,126.7 479.8,126.2 481.8,125.8 483.8,125.3 485.8,124.8 487.8,124.3 489.8,123.6 491.8,122.8 493.8,121.9 495.8,121.0 497.8,119.9 499.8,118.8 501.8,117.7 503.8,116.4 505.8,115.0 507.8,113.5 509.8,112.1 511.8,110.8 513.8,109.7 515.8,108.9 517.8,108.4 519.8,108.0 521.8,107.5 523.8,106.8 525.8,105.5 527.8,103.9 529.8,101.9 531.8,99.8 533.8,97.7 535.8,95.9 537.8,94.1 539.8,92.4 541.8,90.9 543.8,89.6 545.8,88.6 547.8,87.9 549.8,87.3 551.8,86.9 553.8,86.4 555.8,86.0 557.8,85.7 559.8,85.4 561.8,85.2 563.8,85.3 565.8,85.5 567.8,86.0 569.8,86.7 571.8,87.4 573.8,88.1 575.8,88.8 577.8,89.5 579.8,90.3 581.8,91.1 583.8,92.0 585.8,92.8 587.8,93.7 589.8,94.6 591.8,95.6 593.8,96.9 595.8,98.5 597.8,100.2 599.8,102.1 601.8,104.1 603.8,106.2 605.8,108.5 607.8,111.0 609.8,113.5 611.8,115.9 613.8,118.1 615.8,120.2 617.8,122.2 619.8,124.2 621.8,126.0 623.8,127.8 625.8,129.5 627.8,131.1 629.8,132.6 631.8,134.0 633.8,135.4 635.8,136.7 637.8,138.0 639.8,139.2 641.8,140.3 643.8,141.5 645.8,142.6 647.8,143.7 649.8,144.7 651.8,145.7 653.8,146.7 655.8,147.6 657.8,148.5 659.8,149.5 661.8,150.4 663.8,151.5 665.8,152.5 667.8,153.7 669.8,154.8 671.8,155.9 673.8,157.0 675.8,158.1 677.8,159.2 679.8,160.3 681.8,161.4 683.8,162.3 685.8,163.0 687.8,163.4 689.8,163.4 691.8,163.4 693.8,163.5 695.8,163.8 697.8,164.6 699.8,165.7 701.8,166.9 703.8,168.2 705.8,169.4 707.8,170.5 709.8,171.5 711.8,172.6 713.8,173.6 715.8,174.5 717.8,175.1 719.8,175.6 721.8,176.1 722.1,176.2" fill="none" stroke="#85858e" stroke-width="1.1" stroke-linejoin="round" stroke-linecap="round"/>
<line x1="725" y1="346.3" x2="888" y2="346.3" stroke="#9a9a9a" stroke-width="1" stroke-dasharray="3.5,3"/>
<g clip-path="url(#cp)">
<rect x="7.40" y="346.3" width="2.3" height="0.8" fill="#ff5252"/>
<rect x="10.75" y="346.3" width="2.3" height="1.3" fill="#ff5252"/>
<rect x="14.10" y="346.3" width="2.3" height="1.8" fill="#ff5252"/>
<rect x="17.45" y="346.3" width="2.3" height="2.1" fill="#ff5252"/>
<rect x="20.80" y="346.3" width="2.3" height="2.8" fill="#ff5252"/>
<rect x="24.15" y="346.3" width="2.3" height="4.3" fill="#ff5252"/>
<rect x="27.50" y="346.3" width="2.3" height="5.6" fill="#ff5252"/>
<rect x="30.85" y="346.3" width="2.3" height="5.3" fill="#ffcdd2"/>
<rect x="34.20" y="346.3" width="2.3" height="4.3" fill="#ffcdd2"/>
<rect x="37.55" y="346.3" width="2.3" height="2.1" fill="#ffcdd2"/>
<rect x="40.90" y="346.3" width="2.3" height="3.4" fill="#ff5252"/>
<rect x="44.25" y="346.3" width="2.3" height="4.3" fill="#ff5252"/>
<rect x="47.60" y="346.3" width="2.3" height="3.8" fill="#ffcdd2"/>
<rect x="50.95" y="346.3" width="2.3" height="4.0" fill="#ff5252"/>
<rect x="54.30" y="346.3" width="2.3" height="4.3" fill="#ff5252"/>
<rect x="57.65" y="346.3" width="2.3" height="5.6" fill="#ff5252"/>
<rect x="61.00" y="346.3" width="2.3" height="5.0" fill="#ffcdd2"/>
<rect x="64.35" y="346.3" width="2.3" height="6.3" fill="#ff5252"/>
<rect x="67.70" y="346.3" width="2.3" height="4.7" fill="#ffcdd2"/>
<rect x="71.05" y="346.3" width="2.3" height="3.4" fill="#ffcdd2"/>
<rect x="74.40" y="346.3" width="2.3" height="2.5" fill="#ffcdd2"/>
<rect x="77.75" y="346.3" width="2.3" height="1.5" fill="#ffcdd2"/>
<rect x="81.10" y="346.3" width="2.3" height="7.8" fill="#ff5252"/>
<rect x="84.45" y="346.3" width="2.3" height="9.1" fill="#ff5252"/>
<rect x="87.80" y="346.3" width="2.3" height="10.1" fill="#ff5252"/>
<rect x="91.15" y="346.3" width="2.3" height="10.6" fill="#ff5252"/>
<rect x="94.50" y="346.3" width="2.3" height="9.7" fill="#ffcdd2"/>
<rect x="97.85" y="346.3" width="2.3" height="8.5" fill="#ffcdd2"/>
<rect x="101.20" y="346.3" width="2.3" height="6.6" fill="#ffcdd2"/>
<rect x="104.55" y="346.3" width="2.3" height="4.0" fill="#ffcdd2"/>
<rect x="107.90" y="346.3" width="2.3" height="0.9" fill="#ffcdd2"/>
<rect x="111.25" y="346.3" width="2.3" height="0.8" fill="#ffcdd2"/>
<rect x="114.60" y="344.8" width="2.3" height="1.5" fill="#26a69a"/>
<rect x="117.95" y="344.5" width="2.3" height="1.8" fill="#26a69a"/>
<rect x="121.30" y="344.3" width="2.3" height="2.0" fill="#26a69a"/>
<rect x="124.65" y="343.8" width="2.3" height="2.5" fill="#26a69a"/>
<rect x="128.00" y="343.3" width="2.3" height="3.0" fill="#26a69a"/>
<rect x="131.35" y="344.2" width="2.3" height="2.1" fill="#b2dfdb"/>
<rect x="134.70" y="344.5" width="2.3" height="1.8" fill="#b2dfdb"/>
<rect x="138.05" y="343.5" width="2.3" height="2.8" fill="#26a69a"/>
<rect x="141.40" y="342.5" width="2.3" height="3.8" fill="#26a69a"/>
<rect x="144.75" y="341.6" width="2.3" height="4.7" fill="#26a69a"/>
<rect x="148.10" y="340.4" width="2.3" height="5.9" fill="#26a69a"/>
<rect x="151.45" y="339.7" width="2.3" height="6.6" fill="#26a69a"/>
<rect x="154.80" y="339.1" width="2.3" height="7.2" fill="#26a69a"/>
<rect x="158.15" y="339.7" width="2.3" height="6.6" fill="#b2dfdb"/>
<rect x="161.50" y="340.4" width="2.3" height="5.9" fill="#b2dfdb"/>
<rect x="164.85" y="341.2" width="2.3" height="5.1" fill="#b2dfdb"/>
<rect x="168.20" y="342.0" width="2.3" height="4.3" fill="#b2dfdb"/>
<rect x="171.55" y="341.6" width="2.3" height="4.7" fill="#b2dfdb"/>
<rect x="174.90" y="340.4" width="2.3" height="5.9" fill="#26a69a"/>
<rect x="178.25" y="341.2" width="2.3" height="5.1" fill="#b2dfdb"/>
<rect x="181.60" y="341.6" width="2.3" height="4.7" fill="#b2dfdb"/>
<rect x="184.95" y="340.7" width="2.3" height="5.6" fill="#26a69a"/>
<rect x="188.30" y="340.4" width="2.3" height="5.9" fill="#26a69a"/>
<rect x="191.65" y="341.0" width="2.3" height="5.3" fill="#b2dfdb"/>
<rect x="195.00" y="340.4" width="2.3" height="5.9" fill="#26a69a"/>
<rect x="198.35" y="340.7" width="2.3" height="5.6" fill="#b2dfdb"/>
<rect x="201.70" y="339.7" width="2.3" height="6.6" fill="#26a69a"/>
<rect x="205.05" y="340.7" width="2.3" height="5.6" fill="#b2dfdb"/>
<rect x="208.40" y="341.6" width="2.3" height="4.7" fill="#b2dfdb"/>
<rect x="211.75" y="342.5" width="2.3" height="3.8" fill="#b2dfdb"/>
<rect x="215.10" y="343.8" width="2.3" height="2.5" fill="#b2dfdb"/>
<rect x="218.45" y="344.5" width="2.3" height="1.8" fill="#b2dfdb"/>
<rect x="221.80" y="344.3" width="2.3" height="2.0" fill="#26a69a"/>
<rect x="225.15" y="344.6" width="2.3" height="1.7" fill="#b2dfdb"/>
<rect x="228.50" y="344.6" width="2.3" height="1.7" fill="#b2dfdb"/>
<rect x="231.85" y="345.2" width="2.3" height="1.1" fill="#b2dfdb"/>
<rect x="235.20" y="345.5" width="2.3" height="0.8" fill="#b2dfdb"/>
<rect x="238.55" y="345.5" width="2.3" height="0.8" fill="#b2dfdb"/>
<rect x="241.90" y="345.2" width="2.3" height="1.1" fill="#26a69a"/>
<rect x="245.25" y="344.3" width="2.3" height="2.0" fill="#26a69a"/>
<rect x="248.60" y="344.3" width="2.3" height="2.0" fill="#26a69a"/>
<rect x="251.95" y="345.5" width="2.3" height="0.8" fill="#b2dfdb"/>
<rect x="255.30" y="346.3" width="2.3" height="0.8" fill="#ff5252"/>
<rect x="258.65" y="346.3" width="2.3" height="1.4" fill="#ff5252"/>
<rect x="262.00" y="345.2" width="2.3" height="1.1" fill="#26a69a"/>
<rect x="265.35" y="344.8" width="2.3" height="1.5" fill="#26a69a"/>
<rect x="268.70" y="346.3" width="2.3" height="0.8" fill="#ff5252"/>
<rect x="272.05" y="346.3" width="2.3" height="1.4" fill="#ff5252"/>
<rect x="275.40" y="346.3" width="2.3" height="2.7" fill="#ff5252"/>
<rect x="278.75" y="346.3" width="2.3" height="2.7" fill="#ff5252"/>
<rect x="282.10" y="346.3" width="2.3" height="1.4" fill="#ffcdd2"/>
<rect x="285.45" y="346.3" width="2.3" height="2.0" fill="#ff5252"/>
<rect x="288.80" y="346.3" width="2.3" height="1.4" fill="#ffcdd2"/>
<rect x="292.15" y="346.3" width="2.3" height="1.0" fill="#ffcdd2"/>
<rect x="295.50" y="346.3" width="2.3" height="2.0" fill="#ff5252"/>
<rect x="298.85" y="346.3" width="2.3" height="0.8" fill="#ffcdd2"/>
<rect x="302.20" y="341.4" width="2.3" height="4.9" fill="#26a69a"/>
<rect x="305.55" y="336.4" width="2.3" height="9.9" fill="#26a69a"/>
<rect x="308.90" y="335.1" width="2.3" height="11.2" fill="#26a69a"/>
<rect x="312.25" y="331.9" width="2.3" height="14.4" fill="#26a69a"/>
<rect x="315.60" y="328.8" width="2.3" height="17.5" fill="#26a69a"/>
<rect x="318.95" y="326.3" width="2.3" height="20.0" fill="#26a69a"/>
<rect x="322.30" y="333.2" width="2.3" height="13.1" fill="#b2dfdb"/>
<rect x="325.65" y="339.5" width="2.3" height="6.8" fill="#b2dfdb"/>
<rect x="329.00" y="343.9" width="2.3" height="2.4" fill="#b2dfdb"/>
<rect x="332.35" y="346.3" width="2.3" height="3.4" fill="#ff5252"/>
<rect x="335.70" y="346.3" width="2.3" height="10.4" fill="#ff5252"/>
<rect x="339.05" y="346.3" width="2.3" height="15.1" fill="#ff5252"/>
<rect x="342.40" y="346.3" width="2.3" height="13.0" fill="#ffcdd2"/>
<rect x="345.75" y="346.3" width="2.3" height="12.6" fill="#ffcdd2"/>
<rect x="349.10" y="346.3" width="2.3" height="6.7" fill="#ffcdd2"/>
<rect x="352.45" y="346.3" width="2.3" height="3.5" fill="#ffcdd2"/>
<rect x="355.80" y="346.3" width="2.3" height="0.8" fill="#ffcdd2"/>
<rect x="359.15" y="345.0" width="2.3" height="1.3" fill="#26a69a"/>
<rect x="362.50" y="344.5" width="2.3" height="1.8" fill="#26a69a"/>
<rect x="365.85" y="346.3" width="2.3" height="2.0" fill="#ff5252"/>
<rect x="369.20" y="346.3" width="2.3" height="3.8" fill="#ff5252"/>
<rect x="372.55" y="346.3" width="2.3" height="4.8" fill="#ff5252"/>
<rect x="375.90" y="346.3" width="2.3" height="7.3" fill="#ff5252"/>
<rect x="379.25" y="346.3" width="2.3" height="9.8" fill="#ff5252"/>
<rect x="382.60" y="346.3" width="2.3" height="9.2" fill="#ffcdd2"/>
<rect x="385.95" y="346.3" width="2.3" height="9.5" fill="#ff5252"/>
<rect x="389.30" y="346.3" width="2.3" height="11.1" fill="#ff5252"/>
<rect x="392.65" y="346.3" width="2.3" height="11.7" fill="#ff5252"/>
<rect x="396.00" y="346.3" width="2.3" height="11.1" fill="#ffcdd2"/>
<rect x="399.35" y="346.3" width="2.3" height="11.7" fill="#ff5252"/>
<rect x="402.70" y="346.3" width="2.3" height="8.6" fill="#ffcdd2"/>
<rect x="406.05" y="346.3" width="2.3" height="4.8" fill="#ffcdd2"/>
<rect x="409.40" y="346.3" width="2.3" height="1.6" fill="#ffcdd2"/>
<rect x="412.75" y="345.5" width="2.3" height="0.8" fill="#26a69a"/>
<rect x="416.10" y="345.5" width="2.3" height="0.8" fill="#26a69a"/>
<rect x="419.45" y="345.5" width="2.3" height="0.8" fill="#b2dfdb"/>
<rect x="422.80" y="345.5" width="2.3" height="0.8" fill="#26a69a"/>
<rect x="426.15" y="345.5" width="2.3" height="0.8" fill="#b2dfdb"/>
<rect x="429.50" y="346.3" width="2.3" height="1.0" fill="#ff5252"/>
<rect x="432.85" y="346.3" width="2.3" height="0.8" fill="#ffcdd2"/>
<rect x="436.20" y="346.3" width="2.3" height="0.8" fill="#ffcdd2"/>
<rect x="439.55" y="345.4" width="2.3" height="0.9" fill="#26a69a"/>
<rect x="442.90" y="345.1" width="2.3" height="1.2" fill="#26a69a"/>
<rect x="446.25" y="344.7" width="2.3" height="1.6" fill="#26a69a"/>
<rect x="449.60" y="345.0" width="2.3" height="1.3" fill="#b2dfdb"/>
<rect x="452.95" y="343.7" width="2.3" height="2.6" fill="#26a69a"/>
<rect x="456.30" y="342.8" width="2.3" height="3.5" fill="#26a69a"/>
<rect x="459.65" y="342.0" width="2.3" height="4.3" fill="#26a69a"/>
<rect x="463.00" y="344.5" width="2.3" height="1.8" fill="#b2dfdb"/>
<rect x="466.35" y="346.3" width="2.3" height="1.2" fill="#ff5252"/>
<rect x="469.70" y="346.3" width="2.3" height="0.8" fill="#ffcdd2"/>
<rect x="473.05" y="345.5" width="2.3" height="0.8" fill="#26a69a"/>
<rect x="476.40" y="344.1" width="2.3" height="2.2" fill="#26a69a"/>
<rect x="479.75" y="341.6" width="2.3" height="4.7" fill="#26a69a"/>
<rect x="483.10" y="340.3" width="2.3" height="6.0" fill="#26a69a"/>
<rect x="486.45" y="342.8" width="2.3" height="3.5" fill="#b2dfdb"/>
<rect x="489.80" y="343.5" width="2.3" height="2.8" fill="#b2dfdb"/>
<rect x="493.15" y="343.7" width="2.3" height="2.6" fill="#b2dfdb"/>
<rect x="496.50" y="343.7" width="2.3" height="2.6" fill="#b2dfdb"/>
<rect x="499.85" y="344.1" width="2.3" height="2.2" fill="#b2dfdb"/>
<rect x="503.20" y="344.7" width="2.3" height="1.6" fill="#b2dfdb"/>
<rect x="506.55" y="343.2" width="2.3" height="3.1" fill="#26a69a"/>
<rect x="509.90" y="342.5" width="2.3" height="3.8" fill="#26a69a"/>
<rect x="513.25" y="342.0" width="2.3" height="4.3" fill="#26a69a"/>
<rect x="516.60" y="342.8" width="2.3" height="3.5" fill="#b2dfdb"/>
<rect x="519.95" y="343.7" width="2.3" height="2.6" fill="#b2dfdb"/>
<rect x="523.30" y="343.2" width="2.3" height="3.1" fill="#26a69a"/>
<rect x="526.65" y="342.0" width="2.3" height="4.3" fill="#26a69a"/>
<rect x="530.00" y="342.5" width="2.3" height="3.8" fill="#b2dfdb"/>
<rect x="533.35" y="342.8" width="2.3" height="3.5" fill="#b2dfdb"/>
<rect x="536.70" y="341.6" width="2.3" height="4.7" fill="#26a69a"/>
<rect x="540.05" y="342.8" width="2.3" height="3.5" fill="#b2dfdb"/>
<rect x="543.40" y="344.1" width="2.3" height="2.2" fill="#b2dfdb"/>
<rect x="546.75" y="345.4" width="2.3" height="0.9" fill="#b2dfdb"/>
<rect x="550.10" y="346.3" width="2.3" height="0.8" fill="#ff5252"/>
<rect x="553.45" y="346.3" width="2.3" height="2.9" fill="#ff5252"/>
<rect x="556.80" y="346.3" width="2.3" height="4.2" fill="#ff5252"/>
<rect x="560.15" y="346.3" width="2.3" height="8.0" fill="#ff5252"/>
<rect x="563.50" y="346.3" width="2.3" height="10.3" fill="#ff5252"/>
<rect x="566.85" y="346.3" width="2.3" height="10.5" fill="#ff5252"/>
<rect x="570.20" y="346.3" width="2.3" height="12.8" fill="#ff5252"/>
<rect x="573.55" y="346.3" width="2.3" height="13.4" fill="#ff5252"/>
<rect x="576.90" y="346.3" width="2.3" height="11.5" fill="#ffcdd2"/>
<rect x="580.25" y="346.3" width="2.3" height="9.6" fill="#ffcdd2"/>
<rect x="583.60" y="346.3" width="2.3" height="7.7" fill="#ffcdd2"/>
<rect x="586.95" y="346.3" width="2.3" height="6.5" fill="#ffcdd2"/>
<rect x="590.30" y="346.3" width="2.3" height="6.5" fill="#ff5252"/>
<rect x="593.65" y="346.3" width="2.3" height="5.0" fill="#ffcdd2"/>
<rect x="597.00" y="346.3" width="2.3" height="4.0" fill="#ffcdd2"/>
<rect x="600.35" y="346.3" width="2.3" height="7.1" fill="#ff5252"/>
<rect x="603.70" y="346.3" width="2.3" height="7.7" fill="#ff5252"/>
<rect x="607.05" y="346.3" width="2.3" height="7.1" fill="#ffcdd2"/>
<rect x="610.40" y="346.3" width="2.3" height="5.2" fill="#ffcdd2"/>
<rect x="613.75" y="346.3" width="2.3" height="5.0" fill="#ffcdd2"/>
<rect x="617.10" y="346.3" width="2.3" height="7.7" fill="#ff5252"/>
<rect x="620.45" y="346.3" width="2.3" height="8.4" fill="#ff5252"/>
<rect x="623.80" y="346.3" width="2.3" height="7.7" fill="#ffcdd2"/>
<rect x="627.15" y="346.3" width="2.3" height="6.5" fill="#ffcdd2"/>
<rect x="630.50" y="346.3" width="2.3" height="3.3" fill="#ffcdd2"/>
<rect x="633.85" y="346.3" width="2.3" height="1.2" fill="#ffcdd2"/>
<rect x="637.20" y="345.2" width="2.3" height="1.1" fill="#26a69a"/>
<rect x="640.55" y="345.5" width="2.3" height="0.8" fill="#b2dfdb"/>
<rect x="643.90" y="346.3" width="2.3" height="0.8" fill="#ffcdd2"/>
<rect x="647.25" y="345.5" width="2.3" height="0.8" fill="#b2dfdb"/>
<rect x="650.60" y="345.5" width="2.3" height="0.8" fill="#26a69a"/>
<rect x="653.95" y="345.2" width="2.3" height="1.1" fill="#26a69a"/>
<rect x="657.30" y="343.9" width="2.3" height="2.4" fill="#26a69a"/>
<rect x="660.65" y="341.6" width="2.3" height="4.7" fill="#26a69a"/>
<rect x="664.00" y="343.7" width="2.3" height="2.6" fill="#b2dfdb"/>
<rect x="667.35" y="345.1" width="2.3" height="1.2" fill="#b2dfdb"/>
<rect x="670.70" y="346.3" width="2.3" height="0.8" fill="#ff5252"/>
<rect x="674.05" y="346.3" width="2.3" height="3.2" fill="#ff5252"/>
<rect x="677.40" y="346.3" width="2.3" height="4.1" fill="#ff5252"/>
<rect x="680.75" y="346.3" width="2.3" height="2.8" fill="#ffcdd2"/>
<rect x="684.10" y="346.3" width="2.3" height="1.8" fill="#ffcdd2"/>
<rect x="687.45" y="346.3" width="2.3" height="0.8" fill="#ffcdd2"/>
<rect x="690.80" y="344.9" width="2.3" height="1.4" fill="#26a69a"/>
<rect x="694.15" y="344.2" width="2.3" height="2.1" fill="#26a69a"/>
<rect x="697.50" y="345.5" width="2.3" height="0.8" fill="#b2dfdb"/>
<rect x="700.85" y="346.3" width="2.3" height="0.8" fill="#ff5252"/>
<rect x="704.20" y="346.3" width="2.3" height="0.8" fill="#ff5252"/>
<rect x="707.55" y="345.3" width="2.3" height="1.0" fill="#26a69a"/>
<rect x="710.90" y="344.2" width="2.3" height="2.1" fill="#26a69a"/>
<rect x="714.25" y="342.6" width="2.3" height="3.7" fill="#26a69a"/>
<rect x="717.60" y="340.8" width="2.3" height="5.5" fill="#26a69a"/>
<rect x="720.95" y="339.4" width="2.3" height="6.9" fill="#26a69a"/>
</g>
<polyline points="9.7,326.4 11.7,326.7 13.7,327.1 15.7,327.4 17.7,327.7 19.7,328.1 21.7,328.6 23.7,329.2 25.7,329.9 27.7,330.7 29.7,331.6 31.7,332.4 33.7,333.1 35.7,333.8 37.7,334.4 39.7,335.0 41.7,335.6 43.7,336.1 45.7,336.7 47.7,337.3 49.7,337.9 51.7,338.5 53.7,339.1 55.7,339.8 57.7,340.5 59.7,341.1 61.7,341.8 63.7,342.5 65.7,343.2 67.7,343.9 69.7,344.5 71.7,345.0 73.7,345.5 75.7,346.1 77.7,346.7 79.7,347.6 81.7,348.7 83.7,350.1 85.7,351.7 87.7,353.2 89.7,354.8 91.7,356.2 93.7,357.7 95.7,359.1 97.7,360.4 99.7,361.5 101.7,362.3 103.7,362.9 105.7,363.3 107.7,363.6 109.7,363.8 111.7,363.8 113.7,363.7 115.7,363.5 117.7,363.3 119.7,363.1 121.7,362.9 123.7,362.7 125.7,362.4 127.7,362.1 129.7,361.8 131.7,361.4 133.7,361.0 135.7,360.5 137.7,359.9 139.7,359.2 141.7,358.4 143.7,357.5 145.7,356.6 147.7,355.7 149.7,354.7 151.7,353.7 153.7,352.7 155.7,351.8 157.7,350.9 159.7,350.1 161.7,349.2 163.7,348.4 165.7,347.5 167.7,346.7 169.7,345.8 171.7,345.0 173.7,344.2 175.7,343.4 177.7,342.6 179.7,341.8 181.7,341.0 183.7,340.2 185.7,339.4 187.7,338.4 189.7,337.4 191.7,336.4 193.7,335.4 195.7,334.4 197.7,333.4 199.7,332.6 201.7,331.7 203.7,331.0 205.7,330.2 207.7,329.6 209.7,329.1 211.7,328.6 213.7,328.3 215.7,328.0 217.7,327.8 219.7,327.6 221.7,327.4 223.7,327.2 225.7,327.1 227.7,326.9 229.7,326.8 231.7,326.7 233.7,326.5 235.7,326.3 237.7,326.1 239.7,325.8 241.7,325.5 243.7,325.2 245.7,324.9 247.7,324.7 249.7,324.6 251.7,324.5 253.7,324.5 255.7,324.5 257.7,324.6 259.7,324.7 261.7,324.8 263.7,324.9 265.7,325.1 267.7,325.3 269.7,325.4 271.7,325.6 273.7,325.8 275.7,326.1 277.7,326.3 279.7,326.6 281.7,326.9 283.7,327.3 285.7,327.6 287.7,327.9 289.7,328.2 291.7,328.5 293.7,328.8 295.7,329.2 297.7,329.2 299.7,328.9 301.7,328.1 303.7,326.9 305.7,325.4 307.7,323.5 309.7,321.2 311.7,318.5 313.7,315.6 315.7,313.1 317.7,310.8 319.7,308.8 321.7,307.1 323.7,305.8 325.7,305.0 327.7,304.5 329.7,304.5 331.7,304.8 333.7,305.5 335.7,306.7 337.7,308.3 339.7,310.5 341.7,312.6 343.7,314.5 345.7,316.2 347.7,317.8 349.7,319.0 351.7,319.9 353.7,320.4 355.7,320.7 357.7,320.9 359.7,320.8 361.7,320.5 363.7,320.2 365.7,320.2 367.7,320.5 369.7,321.1 371.7,321.8 373.7,322.8 375.7,323.9 377.7,325.3 379.7,326.7 381.7,328.3 383.7,330.0 385.7,331.9 387.7,333.6 389.7,335.3 391.7,336.9 393.7,338.4 395.7,339.8 397.7,341.2 399.7,342.5 401.7,343.7 403.7,344.6 405.7,345.3 407.7,345.6 409.7,345.7 411.7,345.7 413.7,345.5 415.7,345.2 417.7,344.9 419.7,344.7 421.7,344.6 423.7,344.6 425.7,344.6 427.7,344.7 429.7,344.8 431.7,345.0 433.7,345.2 435.7,345.3 437.7,345.3 439.7,345.1 441.7,345.0 443.7,344.8 445.7,344.6 447.7,344.3 449.7,344.1 451.7,343.8 453.7,343.4 455.7,342.9 457.7,342.3 459.7,341.8 461.7,341.5 463.7,341.2 465.7,340.9 467.7,340.7 469.7,340.4 471.7,340.2 473.7,340.0 475.7,339.8 477.7,339.4 479.7,339.0 481.7,338.5 483.7,337.9 485.7,337.4 487.7,336.9 489.7,336.4 491.7,335.9 493.7,335.4 495.7,334.9 497.7,334.6 499.7,334.2 501.7,333.9 503.7,333.4 505.7,333.0 507.7,332.4 509.7,331.8 511.7,331.2 513.7,330.7 515.7,330.1 517.7,329.6 519.7,329.1 521.7,328.7 523.7,328.1 525.7,327.6 527.7,327.0 529.7,326.3 531.7,325.6 533.7,325.0 535.7,324.4 537.7,323.9 539.7,323.4 541.7,322.9 543.7,322.5 545.7,322.3 547.7,322.2 549.7,322.2 551.7,322.3 553.7,322.7 555.7,323.5 557.7,324.6 559.7,326.0 561.7,327.4 563.7,329.0 565.7,330.7 567.7,332.5 569.7,334.3 571.7,336.0 573.7,337.6 575.7,339.1 577.7,340.6 579.7,342.0 581.7,343.3 583.7,344.6 585.7,345.8 587.7,346.9 589.7,347.8 591.7,348.6 593.7,349.3 595.7,350.0 597.7,350.9 599.7,351.8 601.7,352.7 603.7,353.8 605.7,354.8 607.7,356.0 609.7,357.3 611.7,358.5 613.7,359.8 615.7,361.1 617.7,362.4 619.7,363.6 621.7,364.8 623.7,365.9 625.7,367.0 627.7,367.9 629.7,368.7 631.7,369.3 633.7,369.5 635.7,369.5 637.7,369.5 639.7,369.5 641.7,369.6 643.7,369.7 645.7,369.7 647.7,369.6 649.7,369.5 651.7,369.2 653.7,368.8 655.7,368.3 657.7,367.8 659.7,367.4 661.7,367.0 663.7,366.6 665.7,366.3 667.7,366.2 669.7,366.4 671.7,366.8 673.7,367.4 675.7,368.0 677.7,368.5 679.7,368.9 681.7,369.4 683.7,369.7 685.7,369.8 687.7,369.6 689.7,369.3 691.7,369.0 693.7,368.9 695.7,369.0 697.7,369.2 699.7,369.3 701.7,369.4 703.7,369.4 705.7,369.3 707.7,369.2 709.7,368.9 711.7,368.6 713.7,368.2 715.7,367.7 717.7,367.0 719.7,366.3 721.7,365.5 722.1,365.4" fill="none" stroke="#ff7a14" stroke-width="1.2" stroke-linejoin="round" stroke-linecap="round"/>
<polyline points="9.7,327.4 11.7,327.9 13.7,328.3 15.7,328.7 17.7,329.2 19.7,329.9 21.7,331.0 23.7,332.4 25.7,334.2 27.7,335.7 29.7,336.8 31.7,337.3 33.7,337.2 35.7,337.1 37.7,337.1 39.7,337.5 41.7,338.1 43.7,338.8 45.7,339.5 47.7,340.3 49.7,341.0 51.7,341.7 53.7,342.4 55.7,343.2 57.7,344.1 59.7,345.1 61.7,346.3 63.7,347.8 65.7,349.2 67.7,350.2 69.7,350.3 71.7,349.8 73.7,349.3 75.7,349.1 77.7,349.9 79.7,352.0 81.7,354.6 83.7,357.0 85.7,359.5 87.7,361.9 89.7,364.1 91.7,366.0 93.7,367.8 95.7,369.2 97.7,370.1 99.7,370.4 101.7,369.6 103.7,368.2 105.7,366.5 107.7,365.0 109.7,364.0 111.7,363.2 113.7,362.5 115.7,361.9 117.7,361.2 119.7,360.5 121.7,359.8 123.7,359.0 125.7,358.3 127.7,357.8 129.7,357.5 131.7,357.5 133.7,357.6 135.7,357.5 137.7,357.1 139.7,356.2 141.7,355.0 143.7,353.7 145.7,352.3 147.7,351.0 149.7,349.6 151.7,348.0 153.7,346.6 155.7,345.3 157.7,344.3 159.7,343.7 161.7,343.3 163.7,342.9 165.7,342.5 167.7,342.0 169.7,341.2 171.7,340.3 173.7,339.4 175.7,338.5 177.7,337.8 179.7,337.2 181.7,336.6 183.7,335.8 185.7,334.8 187.7,333.5 189.7,332.1 191.7,330.8 193.7,329.6 195.7,328.7 197.7,327.8 199.7,327.0 201.7,326.4 203.7,325.9 205.7,325.7 207.7,325.7 209.7,325.8 211.7,326.1 213.7,326.3 215.7,326.4 217.7,326.3 219.7,326.2 221.7,326.0 223.7,325.7 225.7,325.5 227.7,325.3 229.7,325.2 231.7,325.3 233.7,325.5 235.7,325.8 237.7,326.0 239.7,326.1 241.7,325.9 243.7,325.3 245.7,324.5 247.7,323.8 249.7,323.6 251.7,324.0 253.7,324.7 255.7,325.6 257.7,326.2 259.7,326.4 261.7,326.0 263.7,325.1 265.7,324.3 267.7,324.1 269.7,324.6 271.7,325.5 273.7,326.6 275.7,327.4 277.7,327.9 279.7,328.2 281.7,328.5 283.7,328.7 285.7,328.9 287.7,329.1 289.7,329.6 291.7,330.3 293.7,330.8 295.7,330.8 297.7,330.1 299.7,328.8 301.7,326.6 303.7,323.2 305.7,319.1 307.7,314.9 309.7,310.9 311.7,306.9 313.7,302.9 315.7,298.9 317.7,294.2 319.7,290.6 321.7,290.3 323.7,292.8 325.7,296.2 327.7,298.7 329.7,300.8 331.7,304.3 333.7,310.5 335.7,316.7 337.7,321.2 339.7,324.7 341.7,327.4 343.7,329.0 345.7,329.8 347.7,329.6 349.7,328.4 351.7,326.5 353.7,324.6 355.7,322.4 357.7,320.3 359.7,319.0 361.7,318.2 363.7,318.4 365.7,320.4 367.7,323.3 369.7,325.9 371.7,327.4 373.7,328.5 375.7,329.9 377.7,332.2 379.7,334.8 381.7,336.8 383.7,337.9 385.7,338.9 387.7,341.0 389.7,343.8 391.7,346.7 393.7,348.9 395.7,350.8 397.7,352.3 399.7,353.4 401.7,354.0 403.7,353.5 405.7,352.0 407.7,350.4 409.7,348.2 411.7,346.0 413.7,344.5 415.7,344.1 417.7,344.2 419.7,344.2 421.7,343.8 423.7,343.6 425.7,344.1 427.7,345.0 429.7,345.7 431.7,346.1 433.7,346.3 435.7,346.3 437.7,345.9 439.7,345.1 441.7,344.4 443.7,343.8 445.7,343.2 447.7,342.7 449.7,342.5 451.7,342.4 453.7,341.6 455.7,339.8 457.7,337.8 459.7,336.5 461.7,336.8 463.7,338.8 465.7,341.1 467.7,342.5 469.7,342.9 471.7,342.7 473.7,341.9 475.7,340.4 477.7,338.2 479.7,336.2 481.7,334.5 483.7,333.1 485.7,332.6 487.7,332.9 489.7,333.3 491.7,333.2 493.7,332.9 495.7,332.5 497.7,332.2 499.7,332.2 501.7,332.4 503.7,332.3 505.7,331.7 507.7,330.7 509.7,329.6 511.7,328.3 513.7,327.0 515.7,326.3 517.7,326.3 519.7,326.6 521.7,326.4 523.7,325.7 525.7,324.7 527.7,323.7 529.7,322.8 531.7,322.0 533.7,321.3 535.7,320.6 537.7,320.1 539.7,319.8 541.7,319.7 543.7,319.8 545.7,320.1 547.7,320.7 549.7,321.8 551.7,323.2 553.7,325.0 555.7,327.1 557.7,329.6 559.7,332.3 561.7,334.9 563.7,337.6 565.7,340.3 567.7,343.0 569.7,345.8 571.7,348.5 573.7,350.6 575.7,352.1 577.7,353.1 579.7,353.4 581.7,353.2 583.7,352.8 585.7,352.1 587.7,352.0 589.7,353.1 591.7,354.6 593.7,355.0 595.7,354.4 597.7,354.5 599.7,356.6 601.7,359.4 603.7,361.8 605.7,364.1 607.7,365.6 609.7,365.9 611.7,365.4 613.7,365.2 615.7,366.0 617.7,368.3 619.7,370.8 621.7,372.6 623.7,374.1 625.7,375.1 627.7,375.3 629.7,374.5 631.7,372.9 633.7,371.3 635.7,370.1 637.7,369.0 639.7,368.4 641.7,368.8 643.7,369.5 645.7,369.9 647.7,369.8 649.7,369.6 651.7,369.1 653.7,368.4 655.7,367.6 657.7,366.5 659.7,364.6 661.7,363.0 663.7,362.8 665.7,363.6 667.7,364.8 669.7,366.2 671.7,368.1 673.7,369.7 675.7,371.0 677.7,372.0 679.7,372.7 681.7,373.0 683.7,372.9 685.7,372.2 687.7,370.8 689.7,369.4 691.7,368.4 693.7,367.7 695.7,367.6 697.7,368.4 699.7,369.3 701.7,369.8 703.7,369.9 705.7,369.8 707.7,369.1 709.7,368.2 711.7,367.2 713.7,366.2 715.7,365.0 717.7,363.3 719.7,361.3 721.7,359.2 722.1,358.8" fill="none" stroke="#2962ff" stroke-width="1.2" stroke-linejoin="round" stroke-linecap="round"/>
<rect x="888" y="0" width="62" height="381" fill="#fff"/>
<g stroke="#74747c" stroke-width="1" shape-rendering="crispEdges">
<line x1="888.5" y1="0" x2="888.5" y2="407"/>
<line x1="9" y1="381.5" x2="940" y2="381.5"/>
<line x1="9" y1="285.5" x2="940" y2="285.5" stroke="#e4e7ee"/>
</g>
<text x="898" y="17" font-size="10.5" fill="#3a3a3e" font-weight="normal" text-anchor="start" textLength="19" lengthAdjust="spacingAndGlyphs" >USD</text>
<text x="898" y="37.0" font-size="11" fill="#3a3a3e" font-weight="normal" text-anchor="start" textLength="36.5" lengthAdjust="spacingAndGlyphs" >13000.0</text>
<text x="898" y="73.85" font-size="11" fill="#3a3a3e" font-weight="normal" text-anchor="start" textLength="36.5" lengthAdjust="spacingAndGlyphs" >12000.0</text>
<text x="898" y="110.7" font-size="11" fill="#3a3a3e" font-weight="normal" text-anchor="start" textLength="36.5" lengthAdjust="spacingAndGlyphs" >11000.0</text>
<text x="898" y="147.55" font-size="11" fill="#3a3a3e" font-weight="normal" text-anchor="start" textLength="36.5" lengthAdjust="spacingAndGlyphs" >10000.0</text>
<text x="898" y="184.4" font-size="11" fill="#3a3a3e" font-weight="normal" text-anchor="start" textLength="31" lengthAdjust="spacingAndGlyphs" >9000.0</text>
<text x="898" y="221.25" font-size="11" fill="#3a3a3e" font-weight="normal" text-anchor="start" textLength="31" lengthAdjust="spacingAndGlyphs" >8000.0</text>
<text x="898" y="258.1" font-size="11" fill="#3a3a3e" font-weight="normal" text-anchor="start" textLength="31" lengthAdjust="spacingAndGlyphs" >7000.0</text>
<text x="898" y="295.1" font-size="11" fill="#3a3a3e" font-weight="normal" text-anchor="start" textLength="26" lengthAdjust="spacingAndGlyphs" >800.0</text>
<text x="898" y="322.7" font-size="11" fill="#3a3a3e" font-weight="normal" text-anchor="start" textLength="26" lengthAdjust="spacingAndGlyphs" >400.0</text>
<text x="898" y="350.3" font-size="11" fill="#3a3a3e" font-weight="normal" text-anchor="start" textLength="14" lengthAdjust="spacingAndGlyphs" >0.0</text>
<text x="896" y="377.90000000000003" font-size="11" fill="#3a3a3e" font-weight="normal" text-anchor="start" textLength="33" lengthAdjust="spacingAndGlyphs" >−400.0</text>
<path d="M888 56 H938 Q940 56 940 58 V68 Q940 70 938 70 H888 Z" fill="#14b54c"/>
<text x="898.3" y="67.0" font-size="11" fill="#fff" font-weight="bold" text-anchor="start" textLength="35.2" lengthAdjust="spacingAndGlyphs" >12189.1</text>
<path d="M888 114 H938 Q940 114 940 116 V126.30000000000001 Q940 128.3 938 128.3 H888 Z" fill="#14b54c"/>
<text x="898.3" y="125.15" font-size="11" fill="#fff" font-weight="bold" text-anchor="start" textLength="35.2" lengthAdjust="spacingAndGlyphs" >10369.1</text>
<path d="M888 128.3 H938 Q940 128.3 940 130.3 V141 Q940 143 938 143 H888 Z" fill="#14b54c"/>
<text x="898.3" y="139.65" font-size="11" fill="#fff" font-weight="bold" text-anchor="start" textLength="35.2" lengthAdjust="spacingAndGlyphs" >10052.5</text>
<path d="M888 143 H932 Q934 143 934 145 V156 Q934 158 932 158 H888 Z" fill="#14b54c"/>
<text x="898.3" y="154.5" font-size="11" fill="#fff" font-weight="bold" text-anchor="start" textLength="30.2" lengthAdjust="spacingAndGlyphs" >9489.4</text>
<rect x="888" y="158" width="62" height="28.4" fill="#fff"/>
<text x="898" y="170" font-size="11" fill="#111" font-weight="normal" text-anchor="start" textLength="31" lengthAdjust="spacingAndGlyphs" >9394.9</text>
<text x="898" y="183" font-size="11" fill="#55555a" font-weight="normal" text-anchor="start" textLength="39.5" lengthAdjust="spacingAndGlyphs" >16:28:21</text>
<path d="M888 186.4 H932 Q934 186.4 934 188.4 V198.5 Q934 200.5 932 200.5 H888 Z" fill="#1652f0"/>
<text x="898.3" y="197.45" font-size="11" fill="#fff" font-weight="bold" text-anchor="start" textLength="30.2" lengthAdjust="spacingAndGlyphs" >8877.8</text>
<path d="M888 200.3 H932 Q934 200.3 934 202.3 V212.3 Q934 214.3 932 214.3 H888 Z" fill="#1652f0"/>
<text x="898.3" y="211.3" font-size="11" fill="#fff" font-weight="bold" text-anchor="start" textLength="30.2" lengthAdjust="spacingAndGlyphs" >8506.1</text>
<text x="83.0" y="398" font-size="11" fill="#3a3a3e" font-weight="normal" text-anchor="start" textLength="18.5" lengthAdjust="spacingAndGlyphs" >Dec</text>
<text x="153.6" y="398" font-size="11" fill="#3a3a3e" font-weight="normal" text-anchor="start" textLength="24.8" lengthAdjust="spacingAndGlyphs" >2022</text>
<text x="294.3" y="398" font-size="11" fill="#3a3a3e" font-weight="normal" text-anchor="start" textLength="18.6" lengthAdjust="spacingAndGlyphs" >Mar</text>
<text x="372.0" y="398" font-size="11" fill="#3a3a3e" font-weight="normal" text-anchor="start" textLength="17" lengthAdjust="spacingAndGlyphs" >Apr</text>
<text x="513.2" y="398" font-size="11" fill="#3a3a3e" font-weight="normal" text-anchor="start" textLength="16.8" lengthAdjust="spacingAndGlyphs" >Jun</text>
<text x="588.4" y="398" font-size="11" fill="#3a3a3e" font-weight="normal" text-anchor="start" textLength="13.3" lengthAdjust="spacingAndGlyphs" >Jul</text>
<text x="666.0" y="398" font-size="11" fill="#3a3a3e" font-weight="normal" text-anchor="start" textLength="5.5" lengthAdjust="spacingAndGlyphs" >2</text>
<text x="737.5" y="398" font-size="11" fill="#3a3a3e" font-weight="normal" text-anchor="start" textLength="16.4" lengthAdjust="spacingAndGlyphs" >Sep</text>
<text x="825.0" y="398" font-size="11" fill="#3a3a3e" font-weight="normal" text-anchor="start" textLength="16.4" lengthAdjust="spacingAndGlyphs" >Oct</text>
<text x="17" y="35.6" font-size="11" fill="#4a4a4f" font-weight="normal" text-anchor="start" textLength="87" lengthAdjust="spacingAndGlyphs" >MA (20, close, 0)</text>
<text x="111" y="35.6" font-size="11" fill="#6a6a70" font-weight="normal" text-anchor="start" textLength="34.5" lengthAdjust="spacingAndGlyphs" >9109.2</text>
<text x="17" y="52.6" font-size="11" fill="#4a4a4f" font-weight="normal" text-anchor="start" textLength="87" lengthAdjust="spacingAndGlyphs" >MA (50, close, 0)</text>
<text x="111" y="52.6" font-size="11" fill="#00bcd4" font-weight="bold" text-anchor="start" textLength="34.5" lengthAdjust="spacingAndGlyphs" >9780.8</text>
<text x="178.5" y="31.9" font-size="18.6" fill="#0b2c8e" font-weight="bold" text-anchor="start" textLength="64" lengthAdjust="spacingAndGlyphs" >WTI, 1d</text>
<text x="17" y="304" font-size="11" fill="#4a4a4f" font-weight="normal" text-anchor="start" textLength="178" lengthAdjust="spacingAndGlyphs" >MACD (12, 26, close, 9, EMA, EMA)</text>
<text x="203" y="304" font-size="11" fill="#089981" font-weight="bold" text-anchor="start" textLength="22" lengthAdjust="spacingAndGlyphs" >95.5</text>
<text x="232" y="304" font-size="11" fill="#2962ff" font-weight="bold" text-anchor="start" textLength="35" lengthAdjust="spacingAndGlyphs" >−181.5</text>
<text x="273" y="304" font-size="11" fill="#ff6d00" font-weight="bold" text-anchor="start" textLength="35" lengthAdjust="spacingAndGlyphs" >−277.0</text>
<g fill="#1c1f2a">
<path d="M9.3 420.2 H17.4 V429.1 H12.9 V423.2 H9.3 Z"/>
<circle cx="19.9" cy="421.8" r="1.65"/>
<path d="M23.6 420.2 H27.9 L24.3 429.1 H20 Z"/>
</g>
<text x="32.4" y="429.1" font-size="12" fill="#1c1f2a" font-weight="normal" text-anchor="start" textLength="67.2" lengthAdjust="spacingAndGlyphs" >TradingView</text>
</svg>
</body></html>
